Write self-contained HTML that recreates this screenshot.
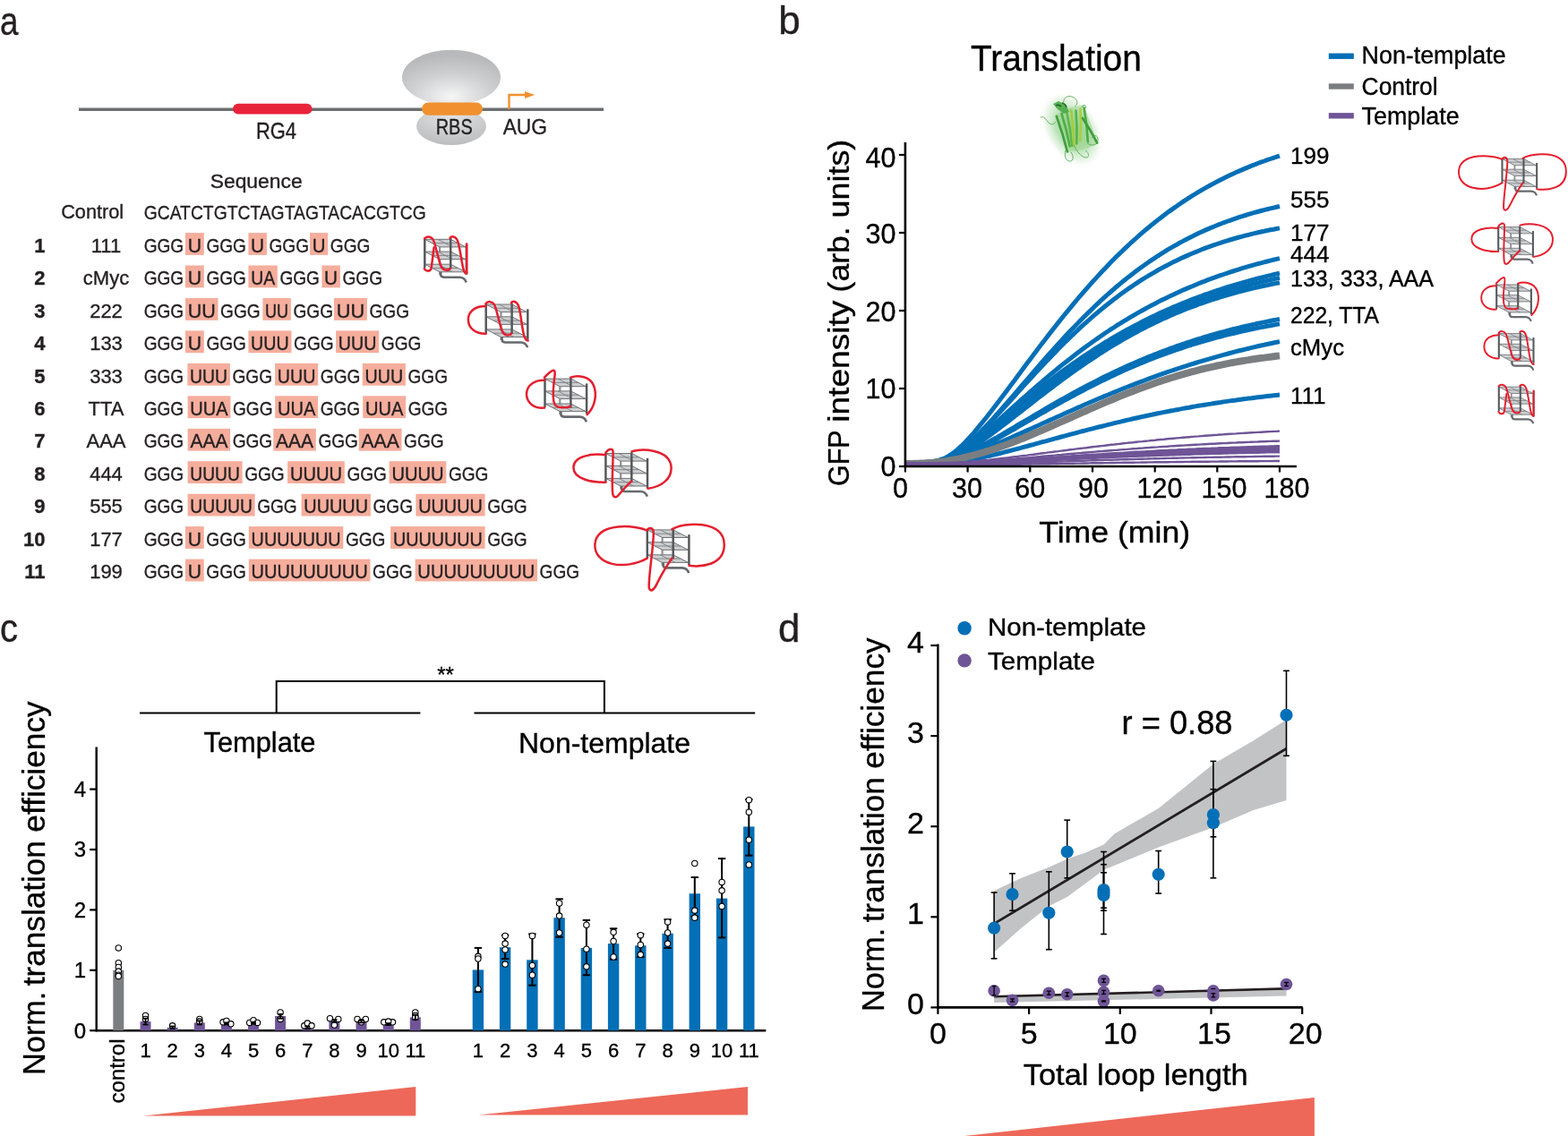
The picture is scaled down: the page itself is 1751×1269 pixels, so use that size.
<!DOCTYPE html><html><head><meta charset="utf-8"><style>html,body{margin:0;padding:0;background:#fff;}svg{display:block;}</style></head><body><svg width="1751" height="1269" viewBox="0 0 1751 1269" font-family='"Liberation Sans", sans-serif' fill="#231f20"><defs>
<radialGradient id="ribo" cx="0.5" cy="0.85" r="0.75"><stop offset="0" stop-color="#f6f6f6"/><stop offset="0.55" stop-color="#cfd0d2"/><stop offset="1" stop-color="#b8b9bb"/></radialGradient>
<radialGradient id="ribo2" cx="0.5" cy="0.2" r="0.8"><stop offset="0" stop-color="#e2e3e4"/><stop offset="1" stop-color="#bcbdbf"/></radialGradient>
<radialGradient id="glow" cx="0.5" cy="0.5" r="0.5"><stop offset="0" stop-color="#6cc06a" stop-opacity="0.9"/><stop offset="0.55" stop-color="#8fd08a" stop-opacity="0.55"/><stop offset="0.8" stop-color="#c4e6c0" stop-opacity="0.35"/><stop offset="1" stop-color="#ffffff" stop-opacity="0"/></radialGradient>
<g id="cube"><path d="M16.8,8.9 V40.2" stroke="#8e9093" stroke-width="2.2" fill="none"/><polygon points="0,0.3 28.9,0.3 45.7,8.9 16.8,8.9" fill="#cdcfd1" stroke="#6f7275" stroke-width="1.0"/><line x1="8.40" y1="4.60" x2="37.30" y2="4.60" stroke="#7d8083" stroke-width="0.9"/><line x1="14.45" y1="0.3" x2="31.25" y2="8.9" stroke="#7d8083" stroke-width="0.9"/><polygon points="0,14.1 28.9,14.1 45.7,22.7 16.8,22.7" fill="#cdcfd1" stroke="#6f7275" stroke-width="1.0"/><line x1="8.40" y1="18.40" x2="37.30" y2="18.40" stroke="#7d8083" stroke-width="0.9"/><line x1="14.45" y1="14.1" x2="31.25" y2="22.7" stroke="#7d8083" stroke-width="0.9"/><polygon points="0,28.2 28.9,28.2 45.7,36.8 16.8,36.8" fill="#cdcfd1" stroke="#6f7275" stroke-width="1.0"/><line x1="8.40" y1="32.50" x2="37.30" y2="32.50" stroke="#7d8083" stroke-width="0.9"/><line x1="14.45" y1="28.2" x2="31.25" y2="36.8" stroke="#7d8083" stroke-width="0.9"/><line x1="0" y1="-0.3" x2="0" y2="32.3" stroke="#55585b" stroke-width="2.5"/><line x1="28.9" y1="-1" x2="28.9" y2="32.8" stroke="#55585b" stroke-width="2.5"/><line x1="46.6" y1="5.6" x2="46.6" y2="39.5" stroke="#55585b" stroke-width="2.5"/><path d="M17.9,36.8 V40.2 Q18.2,42.8 22,42.8 L39,42.8 Q44.5,43 46.4,48.5" fill="none" stroke="#666a6d" stroke-width="2.6"/></g>
</defs>
<text x="0.0" y="38.6" font-size="44" textLength="20.5" lengthAdjust="spacingAndGlyphs" stroke="#231f20" stroke-width="0.35">a</text>
<line x1="88.0" y1="122.3" x2="674.0" y2="122.3" stroke="#6d6f71" stroke-width="3.6"/>
<rect x="260" y="115.8" width="88.6" height="11.8" rx="5.9" fill="#e8243a"/>
<text x="308.5" y="155.3" font-size="25" text-anchor="middle" textLength="45.0" lengthAdjust="spacingAndGlyphs" stroke="#231f20" stroke-width="0.35">RG4</text>
<ellipse cx="504" cy="141" rx="39" ry="21" fill="url(#ribo2)"/>
<ellipse cx="504" cy="86.5" rx="55" ry="30.8" fill="url(#ribo)"/>
<rect x="471" y="114.6" width="68" height="14.2" rx="7" fill="#f1902f"/>
<path d="M568.5,122 V106 H588" fill="none" stroke="#f1902f" stroke-width="2.4"/>
<polygon points="586,102 597,106 586,110" fill="#f1902f"/>
<text x="507.2" y="149.7" font-size="24" text-anchor="middle" textLength="41.0" lengthAdjust="spacingAndGlyphs" stroke="#231f20" stroke-width="0.35">RBS</text>
<text x="586.4" y="149.7" font-size="24" text-anchor="middle" textLength="49.5" lengthAdjust="spacingAndGlyphs" stroke="#231f20" stroke-width="0.35">AUG</text>
<text x="286.2" y="209.7" font-size="22" text-anchor="middle" textLength="103.0" lengthAdjust="spacingAndGlyphs" stroke="#231f20" stroke-width="0.35">Sequence</text>
<text x="103.2" y="243.9" font-size="22" text-anchor="middle" textLength="70.0" lengthAdjust="spacingAndGlyphs" stroke="#231f20" stroke-width="0.35">Control</text>
<text x="160.7" y="245.3" font-size="22" textLength="315.0" lengthAdjust="spacingAndGlyphs" stroke="#231f20" stroke-width="0.35">GCATCTGTCTAGTAGTACACGTCG</text>
<text x="50.5" y="281.7" font-size="22" text-anchor="end" font-weight="bold" stroke="#231f20" stroke-width="0.35">1</text>
<text x="118.5" y="281.7" font-size="22" text-anchor="middle" stroke="#231f20" stroke-width="0.35">111</text>
<rect x="207.0" y="260.1" width="20.8" height="24.8" fill="#f5ad9c"/>
<rect x="277.4" y="260.1" width="20.5" height="24.8" fill="#f5ad9c"/>
<rect x="346.0" y="260.1" width="20.2" height="24.8" fill="#f5ad9c"/>
<text x="160.7" y="281.7" font-size="22" textLength="44.5" lengthAdjust="spacingAndGlyphs" stroke="#231f20" stroke-width="0.35">GGG</text>
<text x="230.4" y="281.7" font-size="22" textLength="44.5" lengthAdjust="spacingAndGlyphs" stroke="#231f20" stroke-width="0.35">GGG</text>
<text x="300.5" y="281.7" font-size="22" textLength="44.5" lengthAdjust="spacingAndGlyphs" stroke="#231f20" stroke-width="0.35">GGG</text>
<text x="368.8" y="281.7" font-size="22" textLength="44.5" lengthAdjust="spacingAndGlyphs" stroke="#231f20" stroke-width="0.35">GGG</text>
<text x="217.4" y="281.7" font-size="22" text-anchor="middle" textLength="15.3" lengthAdjust="spacingAndGlyphs" stroke="#231f20" stroke-width="0.35">U</text>
<text x="287.6" y="281.7" font-size="22" text-anchor="middle" textLength="15.0" lengthAdjust="spacingAndGlyphs" stroke="#231f20" stroke-width="0.35">U</text>
<text x="356.1" y="281.7" font-size="22" text-anchor="middle" textLength="14.7" lengthAdjust="spacingAndGlyphs" stroke="#231f20" stroke-width="0.35">U</text>
<text x="50.5" y="318.1" font-size="22" text-anchor="end" font-weight="bold" stroke="#231f20" stroke-width="0.35">2</text>
<text x="118.5" y="318.1" font-size="22" text-anchor="middle" stroke="#231f20" stroke-width="0.35">cMyc</text>
<rect x="207.0" y="296.5" width="20.8" height="24.8" fill="#f5ad9c"/>
<rect x="277.4" y="296.5" width="32.4" height="24.8" fill="#f5ad9c"/>
<rect x="359.4" y="296.5" width="20.5" height="24.8" fill="#f5ad9c"/>
<text x="160.7" y="318.1" font-size="22" textLength="44.5" lengthAdjust="spacingAndGlyphs" stroke="#231f20" stroke-width="0.35">GGG</text>
<text x="230.4" y="318.1" font-size="22" textLength="44.5" lengthAdjust="spacingAndGlyphs" stroke="#231f20" stroke-width="0.35">GGG</text>
<text x="312.4" y="318.1" font-size="22" textLength="44.5" lengthAdjust="spacingAndGlyphs" stroke="#231f20" stroke-width="0.35">GGG</text>
<text x="382.5" y="318.1" font-size="22" textLength="44.5" lengthAdjust="spacingAndGlyphs" stroke="#231f20" stroke-width="0.35">GGG</text>
<text x="217.4" y="318.1" font-size="22" text-anchor="middle" textLength="15.3" lengthAdjust="spacingAndGlyphs" stroke="#231f20" stroke-width="0.35">U</text>
<text x="293.6" y="318.1" font-size="22" text-anchor="middle" textLength="26.9" lengthAdjust="spacingAndGlyphs" stroke="#231f20" stroke-width="0.35">UA</text>
<text x="369.6" y="318.1" font-size="22" text-anchor="middle" textLength="15.0" lengthAdjust="spacingAndGlyphs" stroke="#231f20" stroke-width="0.35">U</text>
<text x="50.5" y="354.6" font-size="22" text-anchor="end" font-weight="bold" stroke="#231f20" stroke-width="0.35">3</text>
<text x="118.5" y="354.6" font-size="22" text-anchor="middle" stroke="#231f20" stroke-width="0.35">222</text>
<rect x="207.0" y="333.0" width="36.5" height="24.8" fill="#f5ad9c"/>
<rect x="293.4" y="333.0" width="31.5" height="24.8" fill="#f5ad9c"/>
<rect x="373.0" y="333.0" width="36.9" height="24.8" fill="#f5ad9c"/>
<text x="160.7" y="354.6" font-size="22" textLength="44.5" lengthAdjust="spacingAndGlyphs" stroke="#231f20" stroke-width="0.35">GGG</text>
<text x="246.1" y="354.6" font-size="22" textLength="44.5" lengthAdjust="spacingAndGlyphs" stroke="#231f20" stroke-width="0.35">GGG</text>
<text x="327.5" y="354.6" font-size="22" textLength="44.5" lengthAdjust="spacingAndGlyphs" stroke="#231f20" stroke-width="0.35">GGG</text>
<text x="412.5" y="354.6" font-size="22" textLength="44.5" lengthAdjust="spacingAndGlyphs" stroke="#231f20" stroke-width="0.35">GGG</text>
<text x="225.2" y="354.6" font-size="22" text-anchor="middle" textLength="31.0" lengthAdjust="spacingAndGlyphs" stroke="#231f20" stroke-width="0.35">UU</text>
<text x="309.1" y="354.6" font-size="22" text-anchor="middle" textLength="26.0" lengthAdjust="spacingAndGlyphs" stroke="#231f20" stroke-width="0.35">UU</text>
<text x="391.4" y="354.6" font-size="22" text-anchor="middle" textLength="31.4" lengthAdjust="spacingAndGlyphs" stroke="#231f20" stroke-width="0.35">UU</text>
<text x="50.5" y="391.1" font-size="22" text-anchor="end" font-weight="bold" stroke="#231f20" stroke-width="0.35">4</text>
<text x="118.5" y="391.1" font-size="22" text-anchor="middle" stroke="#231f20" stroke-width="0.35">133</text>
<rect x="207.0" y="369.4" width="20.8" height="24.8" fill="#f5ad9c"/>
<rect x="277.4" y="369.4" width="48.1" height="24.8" fill="#f5ad9c"/>
<rect x="375.1" y="369.4" width="48.1" height="24.8" fill="#f5ad9c"/>
<text x="160.7" y="391.1" font-size="22" textLength="44.5" lengthAdjust="spacingAndGlyphs" stroke="#231f20" stroke-width="0.35">GGG</text>
<text x="230.4" y="391.1" font-size="22" textLength="44.5" lengthAdjust="spacingAndGlyphs" stroke="#231f20" stroke-width="0.35">GGG</text>
<text x="328.1" y="391.1" font-size="22" textLength="44.5" lengthAdjust="spacingAndGlyphs" stroke="#231f20" stroke-width="0.35">GGG</text>
<text x="425.8" y="391.1" font-size="22" textLength="44.5" lengthAdjust="spacingAndGlyphs" stroke="#231f20" stroke-width="0.35">GGG</text>
<text x="217.4" y="391.1" font-size="22" text-anchor="middle" textLength="15.3" lengthAdjust="spacingAndGlyphs" stroke="#231f20" stroke-width="0.35">U</text>
<text x="301.4" y="391.1" font-size="22" text-anchor="middle" textLength="42.6" lengthAdjust="spacingAndGlyphs" stroke="#231f20" stroke-width="0.35">UUU</text>
<text x="399.1" y="391.1" font-size="22" text-anchor="middle" textLength="42.6" lengthAdjust="spacingAndGlyphs" stroke="#231f20" stroke-width="0.35">UUU</text>
<text x="50.5" y="427.5" font-size="22" text-anchor="end" font-weight="bold" stroke="#231f20" stroke-width="0.35">5</text>
<text x="118.5" y="427.5" font-size="22" text-anchor="middle" stroke="#231f20" stroke-width="0.35">333</text>
<rect x="209.4" y="405.9" width="47.5" height="24.8" fill="#f5ad9c"/>
<rect x="307.1" y="405.9" width="48.1" height="24.8" fill="#f5ad9c"/>
<rect x="404.8" y="405.9" width="48.1" height="24.8" fill="#f5ad9c"/>
<text x="160.7" y="427.5" font-size="22" textLength="44.5" lengthAdjust="spacingAndGlyphs" stroke="#231f20" stroke-width="0.35">GGG</text>
<text x="259.5" y="427.5" font-size="22" textLength="44.5" lengthAdjust="spacingAndGlyphs" stroke="#231f20" stroke-width="0.35">GGG</text>
<text x="357.8" y="427.5" font-size="22" textLength="44.5" lengthAdjust="spacingAndGlyphs" stroke="#231f20" stroke-width="0.35">GGG</text>
<text x="455.5" y="427.5" font-size="22" textLength="44.5" lengthAdjust="spacingAndGlyphs" stroke="#231f20" stroke-width="0.35">GGG</text>
<text x="233.1" y="427.5" font-size="22" text-anchor="middle" textLength="42.0" lengthAdjust="spacingAndGlyphs" stroke="#231f20" stroke-width="0.35">UUU</text>
<text x="331.1" y="427.5" font-size="22" text-anchor="middle" textLength="42.6" lengthAdjust="spacingAndGlyphs" stroke="#231f20" stroke-width="0.35">UUU</text>
<text x="428.9" y="427.5" font-size="22" text-anchor="middle" textLength="42.6" lengthAdjust="spacingAndGlyphs" stroke="#231f20" stroke-width="0.35">UUU</text>
<text x="50.5" y="463.9" font-size="22" text-anchor="end" font-weight="bold" stroke="#231f20" stroke-width="0.35">6</text>
<text x="118.5" y="463.9" font-size="22" text-anchor="middle" stroke="#231f20" stroke-width="0.35">TTA</text>
<rect x="209.6" y="442.3" width="47.8" height="24.8" fill="#f5ad9c"/>
<rect x="307.2" y="442.3" width="47.9" height="24.8" fill="#f5ad9c"/>
<rect x="405.2" y="442.3" width="47.9" height="24.8" fill="#f5ad9c"/>
<text x="160.7" y="463.9" font-size="22" textLength="44.5" lengthAdjust="spacingAndGlyphs" stroke="#231f20" stroke-width="0.35">GGG</text>
<text x="260.0" y="463.9" font-size="22" textLength="44.5" lengthAdjust="spacingAndGlyphs" stroke="#231f20" stroke-width="0.35">GGG</text>
<text x="357.7" y="463.9" font-size="22" textLength="44.5" lengthAdjust="spacingAndGlyphs" stroke="#231f20" stroke-width="0.35">GGG</text>
<text x="455.7" y="463.9" font-size="22" textLength="44.5" lengthAdjust="spacingAndGlyphs" stroke="#231f20" stroke-width="0.35">GGG</text>
<text x="233.5" y="463.9" font-size="22" text-anchor="middle" textLength="42.3" lengthAdjust="spacingAndGlyphs" stroke="#231f20" stroke-width="0.35">UUA</text>
<text x="331.1" y="463.9" font-size="22" text-anchor="middle" textLength="42.4" lengthAdjust="spacingAndGlyphs" stroke="#231f20" stroke-width="0.35">UUA</text>
<text x="429.1" y="463.9" font-size="22" text-anchor="middle" textLength="42.4" lengthAdjust="spacingAndGlyphs" stroke="#231f20" stroke-width="0.35">UUA</text>
<text x="50.5" y="500.4" font-size="22" text-anchor="end" font-weight="bold" stroke="#231f20" stroke-width="0.35">7</text>
<text x="118.5" y="500.4" font-size="22" text-anchor="middle" stroke="#231f20" stroke-width="0.35">AAA</text>
<rect x="209.6" y="478.8" width="47.5" height="24.8" fill="#f5ad9c"/>
<rect x="305.3" y="478.8" width="47.5" height="24.8" fill="#f5ad9c"/>
<rect x="400.7" y="478.8" width="47.8" height="24.8" fill="#f5ad9c"/>
<text x="160.7" y="500.4" font-size="22" textLength="44.5" lengthAdjust="spacingAndGlyphs" stroke="#231f20" stroke-width="0.35">GGG</text>
<text x="259.7" y="500.4" font-size="22" textLength="44.5" lengthAdjust="spacingAndGlyphs" stroke="#231f20" stroke-width="0.35">GGG</text>
<text x="355.4" y="500.4" font-size="22" textLength="44.5" lengthAdjust="spacingAndGlyphs" stroke="#231f20" stroke-width="0.35">GGG</text>
<text x="451.1" y="500.4" font-size="22" textLength="44.5" lengthAdjust="spacingAndGlyphs" stroke="#231f20" stroke-width="0.35">GGG</text>
<text x="233.4" y="500.4" font-size="22" text-anchor="middle" textLength="42.0" lengthAdjust="spacingAndGlyphs" stroke="#231f20" stroke-width="0.35">AAA</text>
<text x="329.1" y="500.4" font-size="22" text-anchor="middle" textLength="42.0" lengthAdjust="spacingAndGlyphs" stroke="#231f20" stroke-width="0.35">AAA</text>
<text x="424.6" y="500.4" font-size="22" text-anchor="middle" textLength="42.3" lengthAdjust="spacingAndGlyphs" stroke="#231f20" stroke-width="0.35">AAA</text>
<text x="50.5" y="536.9" font-size="22" text-anchor="end" font-weight="bold" stroke="#231f20" stroke-width="0.35">8</text>
<text x="118.5" y="536.9" font-size="22" text-anchor="middle" stroke="#231f20" stroke-width="0.35">444</text>
<rect x="209.6" y="515.2" width="61.0" height="24.8" fill="#f5ad9c"/>
<rect x="321.1" y="515.2" width="63.7" height="24.8" fill="#f5ad9c"/>
<rect x="434.6" y="515.2" width="63.7" height="24.8" fill="#f5ad9c"/>
<text x="160.7" y="536.9" font-size="22" textLength="44.5" lengthAdjust="spacingAndGlyphs" stroke="#231f20" stroke-width="0.35">GGG</text>
<text x="273.2" y="536.9" font-size="22" textLength="44.5" lengthAdjust="spacingAndGlyphs" stroke="#231f20" stroke-width="0.35">GGG</text>
<text x="387.4" y="536.9" font-size="22" textLength="44.5" lengthAdjust="spacingAndGlyphs" stroke="#231f20" stroke-width="0.35">GGG</text>
<text x="500.9" y="536.9" font-size="22" textLength="44.5" lengthAdjust="spacingAndGlyphs" stroke="#231f20" stroke-width="0.35">GGG</text>
<text x="240.1" y="536.9" font-size="22" text-anchor="middle" textLength="55.5" lengthAdjust="spacingAndGlyphs" stroke="#231f20" stroke-width="0.35">UUUU</text>
<text x="353.0" y="536.9" font-size="22" text-anchor="middle" textLength="58.2" lengthAdjust="spacingAndGlyphs" stroke="#231f20" stroke-width="0.35">UUUU</text>
<text x="466.5" y="536.9" font-size="22" text-anchor="middle" textLength="58.2" lengthAdjust="spacingAndGlyphs" stroke="#231f20" stroke-width="0.35">UUUU</text>
<text x="50.5" y="573.3" font-size="22" text-anchor="end" font-weight="bold" stroke="#231f20" stroke-width="0.35">9</text>
<text x="118.5" y="573.3" font-size="22" text-anchor="middle" stroke="#231f20" stroke-width="0.35">555</text>
<rect x="209.6" y="551.7" width="75.0" height="24.8" fill="#f5ad9c"/>
<rect x="336.6" y="551.7" width="77.3" height="24.8" fill="#f5ad9c"/>
<rect x="464.4" y="551.7" width="77.2" height="24.8" fill="#f5ad9c"/>
<text x="160.7" y="573.3" font-size="22" textLength="44.5" lengthAdjust="spacingAndGlyphs" stroke="#231f20" stroke-width="0.35">GGG</text>
<text x="287.2" y="573.3" font-size="22" textLength="44.5" lengthAdjust="spacingAndGlyphs" stroke="#231f20" stroke-width="0.35">GGG</text>
<text x="416.5" y="573.3" font-size="22" textLength="44.5" lengthAdjust="spacingAndGlyphs" stroke="#231f20" stroke-width="0.35">GGG</text>
<text x="544.2" y="573.3" font-size="22" textLength="44.5" lengthAdjust="spacingAndGlyphs" stroke="#231f20" stroke-width="0.35">GGG</text>
<text x="247.1" y="573.3" font-size="22" text-anchor="middle" textLength="69.5" lengthAdjust="spacingAndGlyphs" stroke="#231f20" stroke-width="0.35">UUUUU</text>
<text x="375.2" y="573.3" font-size="22" text-anchor="middle" textLength="71.8" lengthAdjust="spacingAndGlyphs" stroke="#231f20" stroke-width="0.35">UUUUU</text>
<text x="503.0" y="573.3" font-size="22" text-anchor="middle" textLength="71.7" lengthAdjust="spacingAndGlyphs" stroke="#231f20" stroke-width="0.35">UUUUU</text>
<text x="50.5" y="609.8" font-size="22" text-anchor="end" font-weight="bold" stroke="#231f20" stroke-width="0.35">10</text>
<text x="118.5" y="609.8" font-size="22" text-anchor="middle" stroke="#231f20" stroke-width="0.35">177</text>
<rect x="207.0" y="588.1" width="20.7" height="24.8" fill="#f5ad9c"/>
<rect x="277.8" y="588.1" width="105.5" height="24.8" fill="#f5ad9c"/>
<rect x="436.1" y="588.1" width="105.5" height="24.8" fill="#f5ad9c"/>
<text x="160.7" y="609.8" font-size="22" textLength="44.5" lengthAdjust="spacingAndGlyphs" stroke="#231f20" stroke-width="0.35">GGG</text>
<text x="230.3" y="609.8" font-size="22" textLength="44.5" lengthAdjust="spacingAndGlyphs" stroke="#231f20" stroke-width="0.35">GGG</text>
<text x="385.9" y="609.8" font-size="22" textLength="44.5" lengthAdjust="spacingAndGlyphs" stroke="#231f20" stroke-width="0.35">GGG</text>
<text x="544.2" y="609.8" font-size="22" textLength="44.5" lengthAdjust="spacingAndGlyphs" stroke="#231f20" stroke-width="0.35">GGG</text>
<text x="217.3" y="609.8" font-size="22" text-anchor="middle" textLength="15.2" lengthAdjust="spacingAndGlyphs" stroke="#231f20" stroke-width="0.35">U</text>
<text x="330.6" y="609.8" font-size="22" text-anchor="middle" textLength="100.0" lengthAdjust="spacingAndGlyphs" stroke="#231f20" stroke-width="0.35">UUUUUUU</text>
<text x="488.9" y="609.8" font-size="22" text-anchor="middle" textLength="100.0" lengthAdjust="spacingAndGlyphs" stroke="#231f20" stroke-width="0.35">UUUUUUU</text>
<text x="50.5" y="646.2" font-size="22" text-anchor="end" font-weight="bold" stroke="#231f20" stroke-width="0.35">11</text>
<text x="118.5" y="646.2" font-size="22" text-anchor="middle" stroke="#231f20" stroke-width="0.35">199</text>
<rect x="207.0" y="624.6" width="20.7" height="24.8" fill="#f5ad9c"/>
<rect x="277.8" y="624.6" width="135.7" height="24.8" fill="#f5ad9c"/>
<rect x="463.6" y="624.6" width="136.4" height="24.8" fill="#f5ad9c"/>
<text x="160.7" y="646.2" font-size="22" textLength="44.5" lengthAdjust="spacingAndGlyphs" stroke="#231f20" stroke-width="0.35">GGG</text>
<text x="230.3" y="646.2" font-size="22" textLength="44.5" lengthAdjust="spacingAndGlyphs" stroke="#231f20" stroke-width="0.35">GGG</text>
<text x="416.1" y="646.2" font-size="22" textLength="44.5" lengthAdjust="spacingAndGlyphs" stroke="#231f20" stroke-width="0.35">GGG</text>
<text x="602.6" y="646.2" font-size="22" textLength="44.5" lengthAdjust="spacingAndGlyphs" stroke="#231f20" stroke-width="0.35">GGG</text>
<text x="217.3" y="646.2" font-size="22" text-anchor="middle" textLength="15.2" lengthAdjust="spacingAndGlyphs" stroke="#231f20" stroke-width="0.35">U</text>
<text x="345.6" y="646.2" font-size="22" text-anchor="middle" textLength="130.2" lengthAdjust="spacingAndGlyphs" stroke="#231f20" stroke-width="0.35">UUUUUUUUU</text>
<text x="531.8" y="646.2" font-size="22" text-anchor="middle" textLength="130.9" lengthAdjust="spacingAndGlyphs" stroke="#231f20" stroke-width="0.35">UUUUUUUUU</text>
<g transform="translate(474.3,267.0) scale(1.0,1.0)">
<use href="#cube"/>
<path d="M-0.5,33 C1.5,36.5 6,36.5 7.3,33 L10.3,9.5" fill="none" stroke="#e41f2e" stroke-width="2.5" stroke-linecap="round" stroke-linejoin="round"/>
<path d="M-0.3,-0.5 C2,-3.5 7,-3.5 9.5,1 C12,6 15,22 18,30 C20,35 26,36.5 28.6,32.7" fill="none" stroke="#e41f2e" stroke-width="2.5" stroke-linecap="round" stroke-linejoin="round"/>
<path d="M28.2,-1 C30,-3.5 34,-3.5 36.5,1.5 C39,7 41,25 43,33 C44,37.5 46,39 46.9,38.5 L46.9,5.5" fill="none" stroke="#e41f2e" stroke-width="2.5" stroke-linecap="round" stroke-linejoin="round"/>
</g>
<g transform="translate(542.7,339.7) scale(1.0,1.0)">
<use href="#cube"/>
<path d="M0,2.3 C-9,2 -19.5,6 -19.8,17 C-20,28 -10,33.5 0,33" fill="none" stroke="#e41f2e" stroke-width="2.5" stroke-linecap="round" stroke-linejoin="round"/>
<path d="M-0.3,-0.5 C2,-3.5 7,-3.5 9.5,1 C12,6 15,22 18,30 C20,35 26,36.5 28.6,32.7" fill="none" stroke="#e41f2e" stroke-width="2.5" stroke-linecap="round" stroke-linejoin="round"/>
<path d="M28.2,-1.5 C30,-4 34,-3.5 36.4,2 C38.5,8 40,25 42,33 C43,38 45,40.7 47,40.7" fill="none" stroke="#e41f2e" stroke-width="2.5" stroke-linecap="round" stroke-linejoin="round"/>
</g>
<g transform="translate(608.5,422.8) scale(1.0,1.0)">
<use href="#cube"/>
<path d="M0,2 C-11,1.5 -20.5,7 -20.5,17.5 C-20.5,27 -12,34 -0.5,32.8" fill="none" stroke="#e41f2e" stroke-width="2.5" stroke-linecap="round" stroke-linejoin="round"/>
<path d="M-0.6,-1.2 C3,-5 8,-10 10.3,-9 C12,-8 11,-3 10,5 C9,14 9,25 11,29 C13,33 24,33.5 28.3,31" fill="none" stroke="#e41f2e" stroke-width="2.5" stroke-linecap="round" stroke-linejoin="round"/>
<path d="M28.7,-1.1 C36,-4 50,-3 54.5,8 C58.5,18 56,32 47.1,40.3" fill="none" stroke="#e41f2e" stroke-width="2.5" stroke-linecap="round" stroke-linejoin="round"/>
</g>
<g transform="translate(676.4,506.2) scale(1.0,1.0)">
<use href="#cube"/>
<path d="M0,2 C-15,0 -36,3 -36,16 C-36,29 -15,33 0,32.5" fill="none" stroke="#e41f2e" stroke-width="2.5" stroke-linecap="round" stroke-linejoin="round"/>
<path d="M0,-0.5 C2,-4 7,-6 8,-3 C9,5 6,35 8,46 C9,50 12,50 15,46 C20,40 25,35 28.6,31.5" fill="none" stroke="#e41f2e" stroke-width="2.5" stroke-linecap="round" stroke-linejoin="round"/>
<path d="M29.2,-2 C40,-5 70,-5 73,14 C75,30 60,38 47.1,39.5" fill="none" stroke="#e41f2e" stroke-width="2.5" stroke-linecap="round" stroke-linejoin="round"/>
</g>
<g transform="translate(722.8,591.6) scale(1.0,1.0)">
<use href="#cube"/>
<path d="M0,1 C-12,-5 -56,-9 -58.4,16 C-60,40 -25,46 0,32" fill="none" stroke="#e41f2e" stroke-width="2.5" stroke-linecap="round" stroke-linejoin="round"/>
<path d="M0,0 C3,-3 7,-2 7,4 C7,20 1,55 2,65 C3,70 7,68 10,62 C15,52 22,40 27.7,32" fill="none" stroke="#e41f2e" stroke-width="2.5" stroke-linecap="round" stroke-linejoin="round"/>
<path d="M27.7,-0.5 C40,-8 86,-12 86,17 C86,40 60,42 46.7,40.2" fill="none" stroke="#e41f2e" stroke-width="2.5" stroke-linecap="round" stroke-linejoin="round"/>
</g>
<text x="869.2" y="38.2" font-size="44" stroke="#231f20" stroke-width="0.35">b</text>
<text x="1179.4" y="78.7" font-size="40" text-anchor="middle" textLength="191.0" lengthAdjust="spacingAndGlyphs" fill="#000" stroke="#000" stroke-width="0.35">Translation</text>
<line x1="1483.8" y1="62.7" x2="1511.8" y2="62.7" stroke="#036fb6" stroke-width="6.4"/>
<line x1="1483.8" y1="96.5" x2="1511.8" y2="96.5" stroke="#7a7e80" stroke-width="6.4"/>
<line x1="1483.8" y1="129.3" x2="1511.8" y2="129.3" stroke="#6f5597" stroke-width="6.4"/>
<text x="1520.6" y="71.3" font-size="27" textLength="161.0" lengthAdjust="spacingAndGlyphs" fill="#000" stroke="#000" stroke-width="0.35">Non-template</text>
<text x="1520.6" y="105.7" font-size="27" textLength="85.0" lengthAdjust="spacingAndGlyphs" fill="#000" stroke="#000" stroke-width="0.35">Control</text>
<text x="1520.6" y="139.2" font-size="27" textLength="109.0" lengthAdjust="spacingAndGlyphs" fill="#000" stroke="#000" stroke-width="0.35">Template</text>
<ellipse cx="0" cy="0" rx="31" ry="47" transform="translate(1197,145) rotate(-32)" fill="url(#glow)"/>
<polygon points="1180,128 1192,121 1210,117 1226,160 1214,166 1193,170" fill="#9ad48b" opacity="0.55"/>
<path d="M1179.8,129.8 Q1187.0,149.7 1191.9,169.5" stroke="#3f9f3d" stroke-width="2.6" fill="none" stroke-linecap="round"/>
<path d="M1185.5,127 Q1191.3,145.2 1194.7,163.5" stroke="#4fae47" stroke-width="2.6" fill="none" stroke-linecap="round"/>
<path d="M1191.2,125 Q1195.4,144.0 1197.2,163" stroke="#5db84a" stroke-width="2.6" fill="none" stroke-linecap="round"/>
<path d="M1196.2,123.4 Q1199.0,142.9 1199.3,162.5" stroke="#a3cc3f" stroke-width="2.6" fill="none" stroke-linecap="round"/>
<path d="M1201.5,123.5 Q1203.1,142.0 1202.3,160.5" stroke="#55b24a" stroke-width="2.6" fill="none" stroke-linecap="round"/>
<path d="M1206.5,121.5 Q1207.5,139.5 1206.2,157.5" stroke="#a9cf41" stroke-width="2.6" fill="none" stroke-linecap="round"/>
<path d="M1210.6,120.5 Q1213.9,139.3 1214.8,158.2" stroke="#4aab46" stroke-width="2.6" fill="none" stroke-linecap="round"/>
<path d="M1208.9,131.9 Q1218.3,145.8 1225.2,159.6" stroke="#3c9b3c" stroke-width="2.6" fill="none" stroke-linecap="round"/>
<path d="M1176,116 l6,-3 l8,4 l4,8 l-6,2 l-7,-5 z" fill="#4aa846" opacity="0.9"/>
<path d="M1179,118 q3,-2 6,1 M1186,115 q4,1 5,5" stroke="#1f5e22" stroke-width="1.4" fill="none"/>
<path d="M1188,117 C1186,110 1192,106 1197,108 C1203,110 1205,116 1200,119 M1162,131 C1166,129 1168,134 1171,137 C1174,140 1177,139 1179,136 M1190,168 C1188,176 1191,180 1195,180 C1199,180 1199,174 1196,170 M1199,162 C1203,170 1208,176 1213,176 C1217,176 1216,170 1212,168 M1214,160 C1220,164 1226,162 1226,156 C1226,150 1221,151 1219,154 M1208,120 C1210,116 1214,117 1212,121" stroke="#43a440" stroke-width="0.8" fill="none"/>
<path d="M1010.9,516.6 L1014.4,516.6 L1017.9,516.6 L1021.4,516.6 L1024.8,516.5 L1028.3,516.5 L1031.8,516.4 L1035.3,516.2 L1038.8,515.9 L1042.3,515.5 L1045.7,514.8 L1049.2,513.9 L1052.7,512.7 L1056.2,511.2 L1059.7,509.2 L1063.2,506.9 L1066.7,504.3 L1070.1,501.4 L1073.6,498.2 L1077.1,494.7 L1080.6,491.1 L1084.1,487.2 L1087.6,483.3 L1091.0,479.2 L1094.5,474.9 L1098.0,470.6 L1101.5,466.3 L1105.0,461.8 L1108.5,457.3 L1112.0,452.8 L1115.4,448.2 L1118.9,443.6 L1122.4,438.9 L1125.9,434.2 L1129.4,429.5 L1132.9,424.9 L1136.3,420.2 L1139.8,415.5 L1143.3,410.8 L1146.8,406.1 L1150.3,401.4 L1153.8,396.8 L1157.2,392.2 L1160.7,387.6 L1164.2,383.0 L1167.7,378.4 L1171.2,373.9 L1174.7,369.4 L1178.2,365.0 L1181.6,360.6 L1185.1,356.2 L1188.6,351.8 L1192.1,347.6 L1195.6,343.3 L1199.1,339.1 L1202.5,335.0 L1206.0,330.9 L1209.5,326.8 L1213.0,322.8 L1216.5,318.8 L1220.0,314.9 L1223.5,311.1 L1226.9,307.3 L1230.4,303.5 L1233.9,299.9 L1237.4,296.2 L1240.9,292.6 L1244.4,289.1 L1247.8,285.6 L1251.3,282.2 L1254.8,278.9 L1258.3,275.6 L1261.8,272.3 L1265.3,269.1 L1268.8,266.0 L1272.2,262.9 L1275.7,259.9 L1279.2,256.9 L1282.7,254.0 L1286.2,251.1 L1289.7,248.3 L1293.1,245.6 L1296.6,242.9 L1300.1,240.2 L1303.6,237.6 L1307.1,235.1 L1310.6,232.6 L1314.1,230.2 L1317.5,227.8 L1321.0,225.4 L1324.5,223.1 L1328.0,220.9 L1331.5,218.7 L1335.0,216.5 L1338.4,214.4 L1341.9,212.4 L1345.4,210.4 L1348.9,208.4 L1352.4,206.5 L1355.9,204.6 L1359.3,202.8 L1362.8,201.0 L1366.3,199.2 L1369.8,197.5 L1373.3,195.8 L1376.8,194.2 L1380.3,192.6 L1383.7,191.1 L1387.2,189.6 L1390.7,188.1 L1394.2,186.6 L1397.7,185.2 L1401.2,183.9 L1404.6,182.5 L1408.1,181.2 L1411.6,180.0 L1415.1,178.7 L1418.6,177.5 L1422.1,176.3 L1425.6,175.2 L1429.0,174.1" fill="none" stroke="#036fb6" stroke-width="5"/>
<path d="M1010.9,516.6 L1014.4,516.6 L1017.9,516.6 L1021.4,516.6 L1024.8,516.6 L1028.3,516.5 L1031.8,516.4 L1035.3,516.3 L1038.8,516.1 L1042.3,515.7 L1045.7,515.2 L1049.2,514.5 L1052.7,513.6 L1056.2,512.3 L1059.7,510.8 L1063.2,509.0 L1066.7,506.9 L1070.1,504.5 L1073.6,501.9 L1077.1,499.1 L1080.6,496.1 L1084.1,493.0 L1087.6,489.7 L1091.0,486.4 L1094.5,482.9 L1098.0,479.3 L1101.5,475.6 L1105.0,471.9 L1108.5,468.1 L1112.0,464.2 L1115.4,460.3 L1118.9,456.4 L1122.4,452.4 L1125.9,448.4 L1129.4,444.4 L1132.9,440.3 L1136.3,436.3 L1139.8,432.2 L1143.3,428.2 L1146.8,424.1 L1150.3,420.0 L1153.8,416.0 L1157.2,412.0 L1160.7,408.0 L1164.2,404.0 L1167.7,400.0 L1171.2,396.0 L1174.7,392.1 L1178.2,388.2 L1181.6,384.4 L1185.1,380.6 L1188.6,376.8 L1192.1,373.0 L1195.6,369.3 L1199.1,365.7 L1202.5,362.1 L1206.0,358.5 L1209.5,355.0 L1213.0,351.5 L1216.5,348.1 L1220.0,344.7 L1223.5,341.3 L1226.9,338.1 L1230.4,334.8 L1233.9,331.7 L1237.4,328.5 L1240.9,325.5 L1244.4,322.4 L1247.8,319.5 L1251.3,316.6 L1254.8,313.7 L1258.3,310.9 L1261.8,308.2 L1265.3,305.5 L1268.8,302.8 L1272.2,300.2 L1275.7,297.7 L1279.2,295.2 L1282.7,292.8 L1286.2,290.4 L1289.7,288.1 L1293.1,285.8 L1296.6,283.6 L1300.1,281.4 L1303.6,279.2 L1307.1,277.2 L1310.6,275.1 L1314.1,273.2 L1317.5,271.2 L1321.0,269.4 L1324.5,267.5 L1328.0,265.7 L1331.5,264.0 L1335.0,262.3 L1338.4,260.6 L1341.9,259.0 L1345.4,257.4 L1348.9,255.9 L1352.4,254.4 L1355.9,253.0 L1359.3,251.5 L1362.8,250.2 L1366.3,248.8 L1369.8,247.5 L1373.3,246.3 L1376.8,245.1 L1380.3,243.9 L1383.7,242.7 L1387.2,241.6 L1390.7,240.5 L1394.2,239.4 L1397.7,238.4 L1401.2,237.4 L1404.6,236.5 L1408.1,235.5 L1411.6,234.6 L1415.1,233.7 L1418.6,232.9 L1422.1,232.1 L1425.6,231.3 L1429.0,230.5" fill="none" stroke="#036fb6" stroke-width="5"/>
<path d="M1010.9,516.6 L1014.4,516.6 L1017.9,516.6 L1021.4,516.6 L1024.8,516.6 L1028.3,516.5 L1031.8,516.5 L1035.3,516.3 L1038.8,516.1 L1042.3,515.8 L1045.7,515.4 L1049.2,514.7 L1052.7,513.8 L1056.2,512.6 L1059.7,511.1 L1063.2,509.3 L1066.7,507.3 L1070.1,505.0 L1073.6,502.4 L1077.1,499.6 L1080.6,496.7 L1084.1,493.6 L1087.6,490.4 L1091.0,487.0 L1094.5,483.6 L1098.0,480.1 L1101.5,476.5 L1105.0,472.9 L1108.5,469.2 L1112.0,465.4 L1115.4,461.7 L1118.9,457.9 L1122.4,454.0 L1125.9,450.2 L1129.4,446.3 L1132.9,442.5 L1136.3,438.6 L1139.8,434.8 L1143.3,430.9 L1146.8,427.1 L1150.3,423.3 L1153.8,419.5 L1157.2,415.7 L1160.7,412.0 L1164.2,408.2 L1167.7,404.5 L1171.2,400.9 L1174.7,397.2 L1178.2,393.7 L1181.6,390.1 L1185.1,386.6 L1188.6,383.1 L1192.1,379.7 L1195.6,376.3 L1199.1,373.0 L1202.5,369.7 L1206.0,366.4 L1209.5,363.2 L1213.0,360.1 L1216.5,357.0 L1220.0,353.9 L1223.5,350.9 L1226.9,348.0 L1230.4,345.1 L1233.9,342.2 L1237.4,339.5 L1240.9,336.7 L1244.4,334.0 L1247.8,331.4 L1251.3,328.8 L1254.8,326.3 L1258.3,323.8 L1261.8,321.4 L1265.3,319.0 L1268.8,316.7 L1272.2,314.4 L1275.7,312.2 L1279.2,310.0 L1282.7,307.9 L1286.2,305.8 L1289.7,303.8 L1293.1,301.8 L1296.6,299.9 L1300.1,298.0 L1303.6,296.2 L1307.1,294.4 L1310.6,292.6 L1314.1,290.9 L1317.5,289.2 L1321.0,287.6 L1324.5,286.1 L1328.0,284.5 L1331.5,283.0 L1335.0,281.6 L1338.4,280.2 L1341.9,278.8 L1345.4,277.4 L1348.9,276.1 L1352.4,274.9 L1355.9,273.7 L1359.3,272.5 L1362.8,271.3 L1366.3,270.2 L1369.8,269.1 L1373.3,268.0 L1376.8,267.0 L1380.3,266.0 L1383.7,265.0 L1387.2,264.1 L1390.7,263.2 L1394.2,262.3 L1397.7,261.4 L1401.2,260.6 L1404.6,259.8 L1408.1,259.0 L1411.6,258.3 L1415.1,257.5 L1418.6,256.8 L1422.1,256.2 L1425.6,255.5 L1429.0,254.9" fill="none" stroke="#036fb6" stroke-width="5"/>
<path d="M1010.9,516.6 L1014.4,516.6 L1017.9,516.6 L1021.4,516.6 L1024.8,516.6 L1028.3,516.5 L1031.8,516.5 L1035.3,516.4 L1038.8,516.2 L1042.3,516.0 L1045.7,515.6 L1049.2,515.1 L1052.7,514.3 L1056.2,513.4 L1059.7,512.1 L1063.2,510.6 L1066.7,508.8 L1070.1,506.8 L1073.6,504.5 L1077.1,502.0 L1080.6,499.4 L1084.1,496.7 L1087.6,493.8 L1091.0,490.9 L1094.5,487.9 L1098.0,484.9 L1101.5,481.8 L1105.0,478.7 L1108.5,475.6 L1112.0,472.4 L1115.4,469.2 L1118.9,466.1 L1122.4,462.9 L1125.9,459.7 L1129.4,456.6 L1132.9,453.4 L1136.3,450.3 L1139.8,447.2 L1143.3,444.1 L1146.8,441.0 L1150.3,437.9 L1153.8,434.8 L1157.2,431.8 L1160.7,428.8 L1164.2,425.8 L1167.7,422.8 L1171.2,419.9 L1174.7,417.0 L1178.2,414.1 L1181.6,411.3 L1185.1,408.4 L1188.6,405.6 L1192.1,402.9 L1195.6,400.2 L1199.1,397.5 L1202.5,394.8 L1206.0,392.2 L1209.5,389.6 L1213.0,387.0 L1216.5,384.5 L1220.0,382.0 L1223.5,379.5 L1226.9,377.1 L1230.4,374.7 L1233.9,372.3 L1237.4,370.0 L1240.9,367.7 L1244.4,365.5 L1247.8,363.2 L1251.3,361.1 L1254.8,358.9 L1258.3,356.8 L1261.8,354.7 L1265.3,352.6 L1268.8,350.6 L1272.2,348.6 L1275.7,346.7 L1279.2,344.8 L1282.7,342.9 L1286.2,341.0 L1289.7,339.2 L1293.1,337.4 L1296.6,335.6 L1300.1,333.9 L1303.6,332.2 L1307.1,330.5 L1310.6,328.9 L1314.1,327.3 L1317.5,325.7 L1321.0,324.1 L1324.5,322.6 L1328.0,321.1 L1331.5,319.7 L1335.0,318.2 L1338.4,316.8 L1341.9,315.4 L1345.4,314.1 L1348.9,312.7 L1352.4,311.4 L1355.9,310.2 L1359.3,308.9 L1362.8,307.7 L1366.3,306.5 L1369.8,305.3 L1373.3,304.1 L1376.8,303.0 L1380.3,301.9 L1383.7,300.8 L1387.2,299.7 L1390.7,298.7 L1394.2,297.7 L1397.7,296.7 L1401.2,295.7 L1404.6,294.7 L1408.1,293.8 L1411.6,292.9 L1415.1,292.0 L1418.6,291.1 L1422.1,290.2 L1425.6,289.4 L1429.0,288.6" fill="none" stroke="#036fb6" stroke-width="5"/>
<path d="M1010.9,516.6 L1014.4,516.6 L1017.9,516.6 L1021.4,516.6 L1024.8,516.6 L1028.3,516.5 L1031.8,516.5 L1035.3,516.4 L1038.8,516.2 L1042.3,516.0 L1045.7,515.7 L1049.2,515.2 L1052.7,514.6 L1056.2,513.7 L1059.7,512.5 L1063.2,511.1 L1066.7,509.4 L1070.1,507.5 L1073.6,505.3 L1077.1,503.0 L1080.6,500.5 L1084.1,497.9 L1087.6,495.1 L1091.0,492.3 L1094.5,489.5 L1098.0,486.6 L1101.5,483.7 L1105.0,480.7 L1108.5,477.8 L1112.0,474.8 L1115.4,471.8 L1118.9,468.9 L1122.4,465.9 L1125.9,462.9 L1129.4,460.0 L1132.9,457.1 L1136.3,454.1 L1139.8,451.2 L1143.3,448.4 L1146.8,445.5 L1150.3,442.7 L1153.8,439.8 L1157.2,437.0 L1160.7,434.3 L1164.2,431.5 L1167.7,428.8 L1171.2,426.1 L1174.7,423.4 L1178.2,420.8 L1181.6,418.2 L1185.1,415.6 L1188.6,413.1 L1192.1,410.6 L1195.6,408.1 L1199.1,405.6 L1202.5,403.2 L1206.0,400.8 L1209.5,398.4 L1213.0,396.1 L1216.5,393.8 L1220.0,391.5 L1223.5,389.2 L1226.9,387.0 L1230.4,384.9 L1233.9,382.7 L1237.4,380.6 L1240.9,378.5 L1244.4,376.4 L1247.8,374.4 L1251.3,372.4 L1254.8,370.4 L1258.3,368.5 L1261.8,366.6 L1265.3,364.7 L1268.8,362.9 L1272.2,361.1 L1275.7,359.3 L1279.2,357.5 L1282.7,355.8 L1286.2,354.1 L1289.7,352.4 L1293.1,350.8 L1296.6,349.1 L1300.1,347.6 L1303.6,346.0 L1307.1,344.5 L1310.6,342.9 L1314.1,341.5 L1317.5,340.0 L1321.0,338.6 L1324.5,337.2 L1328.0,335.8 L1331.5,334.4 L1335.0,333.1 L1338.4,331.8 L1341.9,330.5 L1345.4,329.2 L1348.9,328.0 L1352.4,326.8 L1355.9,325.6 L1359.3,324.4 L1362.8,323.3 L1366.3,322.1 L1369.8,321.0 L1373.3,319.9 L1376.8,318.9 L1380.3,317.8 L1383.7,316.8 L1387.2,315.8 L1390.7,314.8 L1394.2,313.8 L1397.7,312.9 L1401.2,312.0 L1404.6,311.0 L1408.1,310.2 L1411.6,309.3 L1415.1,308.4 L1418.6,307.6 L1422.1,306.7 L1425.6,305.9 L1429.0,305.1" fill="none" stroke="#036fb6" stroke-width="5"/>
<path d="M1010.9,516.6 L1014.4,516.6 L1017.9,516.6 L1021.4,516.6 L1024.8,516.6 L1028.3,516.6 L1031.8,516.5 L1035.3,516.4 L1038.8,516.2 L1042.3,516.0 L1045.7,515.7 L1049.2,515.2 L1052.7,514.5 L1056.2,513.7 L1059.7,512.6 L1063.2,511.2 L1066.7,509.7 L1070.1,507.9 L1073.6,506.0 L1077.1,503.9 L1080.6,501.6 L1084.1,499.3 L1087.6,496.9 L1091.0,494.4 L1094.5,491.8 L1098.0,489.2 L1101.5,486.5 L1105.0,483.8 L1108.5,481.1 L1112.0,478.4 L1115.4,475.6 L1118.9,472.8 L1122.4,470.1 L1125.9,467.3 L1129.4,464.5 L1132.9,461.7 L1136.3,458.9 L1139.8,456.1 L1143.3,453.3 L1146.8,450.5 L1150.3,447.8 L1153.8,445.0 L1157.2,442.3 L1160.7,439.6 L1164.2,436.9 L1167.7,434.2 L1171.2,431.5 L1174.7,428.9 L1178.2,426.2 L1181.6,423.6 L1185.1,421.1 L1188.6,418.5 L1192.1,416.0 L1195.6,413.5 L1199.1,411.0 L1202.5,408.6 L1206.0,406.1 L1209.5,403.8 L1213.0,401.4 L1216.5,399.1 L1220.0,396.8 L1223.5,394.5 L1226.9,392.2 L1230.4,390.0 L1233.9,387.8 L1237.4,385.7 L1240.9,383.6 L1244.4,381.5 L1247.8,379.4 L1251.3,377.4 L1254.8,375.4 L1258.3,373.4 L1261.8,371.5 L1265.3,369.6 L1268.8,367.7 L1272.2,365.8 L1275.7,364.0 L1279.2,362.2 L1282.7,360.5 L1286.2,358.7 L1289.7,357.0 L1293.1,355.4 L1296.6,353.7 L1300.1,352.1 L1303.6,350.5 L1307.1,349.0 L1310.6,347.5 L1314.1,346.0 L1317.5,344.5 L1321.0,343.1 L1324.5,341.7 L1328.0,340.3 L1331.5,338.9 L1335.0,337.6 L1338.4,336.3 L1341.9,335.0 L1345.4,333.7 L1348.9,332.5 L1352.4,331.3 L1355.9,330.1 L1359.3,328.9 L1362.8,327.8 L1366.3,326.7 L1369.8,325.6 L1373.3,324.5 L1376.8,323.5 L1380.3,322.5 L1383.7,321.5 L1387.2,320.5 L1390.7,319.5 L1394.2,318.6 L1397.7,317.7 L1401.2,316.8 L1404.6,315.9 L1408.1,315.1 L1411.6,314.2 L1415.1,313.4 L1418.6,312.6 L1422.1,311.8 L1425.6,311.1 L1429.0,310.3" fill="none" stroke="#036fb6" stroke-width="5"/>
<path d="M1010.9,516.6 L1014.4,516.6 L1017.9,516.6 L1021.4,516.6 L1024.8,516.6 L1028.3,516.6 L1031.8,516.5 L1035.3,516.4 L1038.8,516.3 L1042.3,516.0 L1045.7,515.7 L1049.2,515.2 L1052.7,514.6 L1056.2,513.8 L1059.7,512.7 L1063.2,511.5 L1066.7,510.1 L1070.1,508.5 L1073.6,506.7 L1077.1,504.8 L1080.6,502.8 L1084.1,500.7 L1087.6,498.5 L1091.0,496.2 L1094.5,493.8 L1098.0,491.4 L1101.5,489.0 L1105.0,486.4 L1108.5,483.9 L1112.0,481.3 L1115.4,478.7 L1118.9,476.0 L1122.4,473.4 L1125.9,470.7 L1129.4,468.0 L1132.9,465.3 L1136.3,462.6 L1139.8,459.9 L1143.3,457.1 L1146.8,454.4 L1150.3,451.7 L1153.8,449.0 L1157.2,446.3 L1160.7,443.6 L1164.2,440.9 L1167.7,438.2 L1171.2,435.6 L1174.7,432.9 L1178.2,430.3 L1181.6,427.7 L1185.1,425.1 L1188.6,422.5 L1192.1,420.0 L1195.6,417.5 L1199.1,415.0 L1202.5,412.5 L1206.0,410.1 L1209.5,407.7 L1213.0,405.3 L1216.5,402.9 L1220.0,400.6 L1223.5,398.3 L1226.9,396.0 L1230.4,393.8 L1233.9,391.5 L1237.4,389.4 L1240.9,387.2 L1244.4,385.1 L1247.8,383.0 L1251.3,381.0 L1254.8,378.9 L1258.3,377.0 L1261.8,375.0 L1265.3,373.1 L1268.8,371.2 L1272.2,369.3 L1275.7,367.5 L1279.2,365.7 L1282.7,363.9 L1286.2,362.2 L1289.7,360.5 L1293.1,358.9 L1296.6,357.2 L1300.1,355.6 L1303.6,354.1 L1307.1,352.5 L1310.6,351.0 L1314.1,349.5 L1317.5,348.1 L1321.0,346.7 L1324.5,345.3 L1328.0,343.9 L1331.5,342.6 L1335.0,341.3 L1338.4,340.0 L1341.9,338.8 L1345.4,337.6 L1348.9,336.4 L1352.4,335.2 L1355.9,334.1 L1359.3,333.0 L1362.8,331.9 L1366.3,330.8 L1369.8,329.8 L1373.3,328.8 L1376.8,327.8 L1380.3,326.8 L1383.7,325.9 L1387.2,325.0 L1390.7,324.1 L1394.2,323.2 L1397.7,322.4 L1401.2,321.6 L1404.6,320.8 L1408.1,320.0 L1411.6,319.2 L1415.1,318.5 L1418.6,317.7 L1422.1,317.0 L1425.6,316.4 L1429.0,315.7" fill="none" stroke="#036fb6" stroke-width="5"/>
<path d="M1010.9,516.6 L1014.4,516.6 L1017.9,516.6 L1021.4,516.6 L1024.8,516.6 L1028.3,516.6 L1031.8,516.5 L1035.3,516.5 L1038.8,516.3 L1042.3,516.2 L1045.7,515.9 L1049.2,515.6 L1052.7,515.1 L1056.2,514.4 L1059.7,513.6 L1063.2,512.7 L1066.7,511.5 L1070.1,510.3 L1073.6,508.9 L1077.1,507.4 L1080.6,505.9 L1084.1,504.2 L1087.6,502.5 L1091.0,500.7 L1094.5,498.9 L1098.0,497.0 L1101.5,495.1 L1105.0,493.2 L1108.5,491.2 L1112.0,489.3 L1115.4,487.3 L1118.9,485.3 L1122.4,483.2 L1125.9,481.2 L1129.4,479.1 L1132.9,477.1 L1136.3,475.0 L1139.8,472.9 L1143.3,470.9 L1146.8,468.8 L1150.3,466.8 L1153.8,464.7 L1157.2,462.6 L1160.7,460.6 L1164.2,458.6 L1167.7,456.5 L1171.2,454.5 L1174.7,452.5 L1178.2,450.5 L1181.6,448.5 L1185.1,446.5 L1188.6,444.6 L1192.1,442.6 L1195.6,440.7 L1199.1,438.8 L1202.5,436.9 L1206.0,435.0 L1209.5,433.1 L1213.0,431.3 L1216.5,429.5 L1220.0,427.7 L1223.5,425.9 L1226.9,424.1 L1230.4,422.3 L1233.9,420.6 L1237.4,418.9 L1240.9,417.2 L1244.4,415.6 L1247.8,413.9 L1251.3,412.3 L1254.8,410.7 L1258.3,409.1 L1261.8,407.5 L1265.3,406.0 L1268.8,404.5 L1272.2,403.0 L1275.7,401.5 L1279.2,400.1 L1282.7,398.6 L1286.2,397.2 L1289.7,395.8 L1293.1,394.5 L1296.6,393.1 L1300.1,391.8 L1303.6,390.5 L1307.1,389.2 L1310.6,388.0 L1314.1,386.7 L1317.5,385.5 L1321.0,384.3 L1324.5,383.1 L1328.0,382.0 L1331.5,380.8 L1335.0,379.7 L1338.4,378.6 L1341.9,377.6 L1345.4,376.5 L1348.9,375.5 L1352.4,374.4 L1355.9,373.4 L1359.3,372.5 L1362.8,371.5 L1366.3,370.6 L1369.8,369.6 L1373.3,368.7 L1376.8,367.8 L1380.3,367.0 L1383.7,366.1 L1387.2,365.3 L1390.7,364.5 L1394.2,363.7 L1397.7,362.9 L1401.2,362.1 L1404.6,361.3 L1408.1,360.6 L1411.6,359.9 L1415.1,359.2 L1418.6,358.5 L1422.1,357.8 L1425.6,357.1 L1429.0,356.5" fill="none" stroke="#036fb6" stroke-width="5"/>
<path d="M1010.9,516.6 L1014.4,516.6 L1017.9,516.6 L1021.4,516.6 L1024.8,516.6 L1028.3,516.6 L1031.8,516.5 L1035.3,516.5 L1038.8,516.4 L1042.3,516.2 L1045.7,516.0 L1049.2,515.6 L1052.7,515.1 L1056.2,514.5 L1059.7,513.8 L1063.2,512.9 L1066.7,511.8 L1070.1,510.7 L1073.6,509.4 L1077.1,508.0 L1080.6,506.6 L1084.1,505.0 L1087.6,503.4 L1091.0,501.7 L1094.5,500.0 L1098.0,498.3 L1101.5,496.5 L1105.0,494.6 L1108.5,492.8 L1112.0,490.9 L1115.4,489.0 L1118.9,487.0 L1122.4,485.1 L1125.9,483.1 L1129.4,481.1 L1132.9,479.2 L1136.3,477.2 L1139.8,475.2 L1143.3,473.2 L1146.8,471.2 L1150.3,469.1 L1153.8,467.1 L1157.2,465.1 L1160.7,463.1 L1164.2,461.1 L1167.7,459.2 L1171.2,457.2 L1174.7,455.2 L1178.2,453.2 L1181.6,451.3 L1185.1,449.4 L1188.6,447.4 L1192.1,445.5 L1195.6,443.6 L1199.1,441.7 L1202.5,439.9 L1206.0,438.0 L1209.5,436.2 L1213.0,434.4 L1216.5,432.6 L1220.0,430.8 L1223.5,429.0 L1226.9,427.3 L1230.4,425.6 L1233.9,423.9 L1237.4,422.2 L1240.9,420.5 L1244.4,418.9 L1247.8,417.3 L1251.3,415.7 L1254.8,414.1 L1258.3,412.5 L1261.8,411.0 L1265.3,409.5 L1268.8,408.0 L1272.2,406.5 L1275.7,405.1 L1279.2,403.7 L1282.7,402.3 L1286.2,400.9 L1289.7,399.5 L1293.1,398.2 L1296.6,396.9 L1300.1,395.6 L1303.6,394.3 L1307.1,393.1 L1310.6,391.8 L1314.1,390.6 L1317.5,389.5 L1321.0,388.3 L1324.5,387.2 L1328.0,386.0 L1331.5,384.9 L1335.0,383.9 L1338.4,382.8 L1341.9,381.8 L1345.4,380.8 L1348.9,379.8 L1352.4,378.8 L1355.9,377.8 L1359.3,376.9 L1362.8,376.0 L1366.3,375.1 L1369.8,374.2 L1373.3,373.3 L1376.8,372.5 L1380.3,371.7 L1383.7,370.8 L1387.2,370.0 L1390.7,369.3 L1394.2,368.5 L1397.7,367.8 L1401.2,367.0 L1404.6,366.3 L1408.1,365.6 L1411.6,365.0 L1415.1,364.3 L1418.6,363.7 L1422.1,363.0 L1425.6,362.4 L1429.0,361.8" fill="none" stroke="#036fb6" stroke-width="5"/>
<path d="M1010.9,516.6 L1014.4,516.6 L1017.9,516.6 L1021.4,516.6 L1024.8,516.6 L1028.3,516.6 L1031.8,516.5 L1035.3,516.4 L1038.8,516.3 L1042.3,516.1 L1045.7,515.8 L1049.2,515.5 L1052.7,515.0 L1056.2,514.5 L1059.7,513.8 L1063.2,513.0 L1066.7,512.2 L1070.1,511.2 L1073.6,510.2 L1077.1,509.1 L1080.6,508.0 L1084.1,506.8 L1087.6,505.6 L1091.0,504.3 L1094.5,503.0 L1098.0,501.7 L1101.5,500.3 L1105.0,498.9 L1108.5,497.5 L1112.0,496.1 L1115.4,494.6 L1118.9,493.2 L1122.4,491.7 L1125.9,490.2 L1129.4,488.7 L1132.9,487.1 L1136.3,485.6 L1139.8,484.1 L1143.3,482.5 L1146.8,480.9 L1150.3,479.4 L1153.8,477.8 L1157.2,476.2 L1160.7,474.7 L1164.2,473.1 L1167.7,471.5 L1171.2,469.9 L1174.7,468.4 L1178.2,466.8 L1181.6,465.2 L1185.1,463.7 L1188.6,462.1 L1192.1,460.5 L1195.6,459.0 L1199.1,457.4 L1202.5,455.9 L1206.0,454.4 L1209.5,452.8 L1213.0,451.3 L1216.5,449.8 L1220.0,448.3 L1223.5,446.8 L1226.9,445.3 L1230.4,443.9 L1233.9,442.4 L1237.4,441.0 L1240.9,439.5 L1244.4,438.1 L1247.8,436.7 L1251.3,435.3 L1254.8,433.9 L1258.3,432.5 L1261.8,431.1 L1265.3,429.8 L1268.8,428.4 L1272.2,427.1 L1275.7,425.8 L1279.2,424.5 L1282.7,423.2 L1286.2,421.9 L1289.7,420.6 L1293.1,419.4 L1296.6,418.1 L1300.1,416.9 L1303.6,415.7 L1307.1,414.5 L1310.6,413.3 L1314.1,412.2 L1317.5,411.0 L1321.0,409.9 L1324.5,408.8 L1328.0,407.7 L1331.5,406.6 L1335.0,405.5 L1338.4,404.4 L1341.9,403.4 L1345.4,402.3 L1348.9,401.3 L1352.4,400.3 L1355.9,399.3 L1359.3,398.3 L1362.8,397.4 L1366.3,396.4 L1369.8,395.5 L1373.3,394.5 L1376.8,393.6 L1380.3,392.7 L1383.7,391.8 L1387.2,391.0 L1390.7,390.1 L1394.2,389.3 L1397.7,388.4 L1401.2,387.6 L1404.6,386.8 L1408.1,386.0 L1411.6,385.3 L1415.1,384.5 L1418.6,383.7 L1422.1,383.0 L1425.6,382.3 L1429.0,381.6" fill="none" stroke="#036fb6" stroke-width="5"/>
<path d="M1010.9,516.6 L1014.4,516.6 L1017.9,516.6 L1021.4,516.6 L1024.8,516.6 L1028.3,516.6 L1031.8,516.6 L1035.3,516.6 L1038.8,516.6 L1042.3,516.6 L1045.7,516.6 L1049.2,516.5 L1052.7,516.5 L1056.2,516.4 L1059.7,516.2 L1063.2,516.0 L1066.7,515.8 L1070.1,515.4 L1073.6,515.0 L1077.1,514.6 L1080.6,514.0 L1084.1,513.5 L1087.6,512.8 L1091.0,512.2 L1094.5,511.5 L1098.0,510.7 L1101.5,509.9 L1105.0,509.2 L1108.5,508.3 L1112.0,507.5 L1115.4,506.7 L1118.9,505.8 L1122.4,504.9 L1125.9,504.0 L1129.4,503.1 L1132.9,502.2 L1136.3,501.3 L1139.8,500.4 L1143.3,499.4 L1146.8,498.5 L1150.3,497.5 L1153.8,496.6 L1157.2,495.6 L1160.7,494.7 L1164.2,493.7 L1167.7,492.8 L1171.2,491.8 L1174.7,490.9 L1178.2,489.9 L1181.6,489.0 L1185.1,488.0 L1188.6,487.1 L1192.1,486.2 L1195.6,485.2 L1199.1,484.3 L1202.5,483.4 L1206.0,482.4 L1209.5,481.5 L1213.0,480.6 L1216.5,479.7 L1220.0,478.8 L1223.5,477.9 L1226.9,477.0 L1230.4,476.2 L1233.9,475.3 L1237.4,474.4 L1240.9,473.6 L1244.4,472.7 L1247.8,471.9 L1251.3,471.1 L1254.8,470.2 L1258.3,469.4 L1261.8,468.6 L1265.3,467.8 L1268.8,467.0 L1272.2,466.3 L1275.7,465.5 L1279.2,464.7 L1282.7,464.0 L1286.2,463.3 L1289.7,462.5 L1293.1,461.8 L1296.6,461.1 L1300.1,460.4 L1303.6,459.7 L1307.1,459.0 L1310.6,458.4 L1314.1,457.7 L1317.5,457.1 L1321.0,456.4 L1324.5,455.8 L1328.0,455.2 L1331.5,454.5 L1335.0,453.9 L1338.4,453.3 L1341.9,452.8 L1345.4,452.2 L1348.9,451.6 L1352.4,451.1 L1355.9,450.5 L1359.3,450.0 L1362.8,449.5 L1366.3,448.9 L1369.8,448.4 L1373.3,447.9 L1376.8,447.4 L1380.3,447.0 L1383.7,446.5 L1387.2,446.0 L1390.7,445.6 L1394.2,445.1 L1397.7,444.7 L1401.2,444.2 L1404.6,443.8 L1408.1,443.4 L1411.6,443.0 L1415.1,442.6 L1418.6,442.2 L1422.1,441.8 L1425.6,441.4 L1429.0,441.1" fill="none" stroke="#036fb6" stroke-width="5"/>
<path d="M1010.9,517.9 L1014.4,517.9 L1017.9,517.9 L1021.4,517.8 L1024.8,517.8 L1028.3,517.6 L1031.8,517.5 L1035.3,517.3 L1038.8,517.1 L1042.3,516.8 L1045.7,516.4 L1049.2,516.0 L1052.7,515.6 L1056.2,515.1 L1059.7,514.5 L1063.2,513.9 L1066.7,513.3 L1070.1,512.6 L1073.6,511.8 L1077.1,511.0 L1080.6,510.2 L1084.1,509.3 L1087.6,508.4 L1091.0,507.5 L1094.5,506.5 L1098.0,505.5 L1101.5,504.4 L1105.0,503.3 L1108.5,502.1 L1112.0,501.0 L1115.4,499.8 L1118.9,498.5 L1122.4,497.3 L1125.9,496.0 L1129.4,494.7 L1132.9,493.3 L1136.3,492.0 L1139.8,490.6 L1143.3,489.2 L1146.8,487.7 L1150.3,486.3 L1153.8,484.8 L1157.2,483.3 L1160.7,481.9 L1164.2,480.4 L1167.7,478.8 L1171.2,477.3 L1174.7,475.8 L1178.2,474.2 L1181.6,472.7 L1185.1,471.1 L1188.6,469.6 L1192.1,468.0 L1195.6,466.5 L1199.1,464.9 L1202.5,463.3 L1206.0,461.8 L1209.5,460.2 L1213.0,458.7 L1216.5,457.2 L1220.0,455.6 L1223.5,454.1 L1226.9,452.6 L1230.4,451.1 L1233.9,449.6 L1237.4,448.1 L1240.9,446.7 L1244.4,445.2 L1247.8,443.8 L1251.3,442.4 L1254.8,441.0 L1258.3,439.6 L1261.8,438.2 L1265.3,436.9 L1268.8,435.5 L1272.2,434.2 L1275.7,432.9 L1279.2,431.7 L1282.7,430.4 L1286.2,429.2 L1289.7,428.0 L1293.1,426.8 L1296.6,425.6 L1300.1,424.5 L1303.6,423.4 L1307.1,422.3 L1310.6,421.2 L1314.1,420.1 L1317.5,419.1 L1321.0,418.1 L1324.5,417.1 L1328.0,416.2 L1331.5,415.2 L1335.0,414.3 L1338.4,413.4 L1341.9,412.5 L1345.4,411.7 L1348.9,410.9 L1352.4,410.1 L1355.9,409.3 L1359.3,408.5 L1362.8,407.8 L1366.3,407.1 L1369.8,406.4 L1373.3,405.7 L1376.8,405.0 L1380.3,404.4 L1383.7,403.8 L1387.2,403.2 L1390.7,402.6 L1394.2,402.1 L1397.7,401.5 L1401.2,401.0 L1404.6,400.5 L1408.1,400.0 L1411.6,399.6 L1415.1,399.1 L1418.6,398.7 L1422.1,398.2 L1425.6,397.8 L1429.0,397.4" fill="none" stroke="#7a7e80" stroke-width="8"/>
<path d="M1010.9,517.1 L1014.4,517.1 L1017.9,517.1 L1021.4,517.1 L1024.8,517.1 L1028.3,517.1 L1031.8,517.1 L1035.3,517.1 L1038.8,517.1 L1042.3,517.1 L1045.7,517.1 L1049.2,517.0 L1052.7,517.0 L1056.2,517.0 L1059.7,516.9 L1063.2,516.8 L1066.7,516.7 L1070.1,516.5 L1073.6,516.3 L1077.1,516.1 L1080.6,515.9 L1084.1,515.6 L1087.6,515.3 L1091.0,515.0 L1094.5,514.6 L1098.0,514.3 L1101.5,513.9 L1105.0,513.6 L1108.5,513.2 L1112.0,512.8 L1115.4,512.4 L1118.9,512.0 L1122.4,511.6 L1125.9,511.2 L1129.4,510.7 L1132.9,510.3 L1136.3,509.9 L1139.8,509.4 L1143.3,509.0 L1146.8,508.6 L1150.3,508.1 L1153.8,507.7 L1157.2,507.2 L1160.7,506.8 L1164.2,506.3 L1167.7,505.9 L1171.2,505.4 L1174.7,505.0 L1178.2,504.5 L1181.6,504.1 L1185.1,503.6 L1188.6,503.2 L1192.1,502.8 L1195.6,502.3 L1199.1,501.9 L1202.5,501.4 L1206.0,501.0 L1209.5,500.6 L1213.0,500.2 L1216.5,499.7 L1220.0,499.3 L1223.5,498.9 L1226.9,498.5 L1230.4,498.1 L1233.9,497.7 L1237.4,497.2 L1240.9,496.8 L1244.4,496.5 L1247.8,496.1 L1251.3,495.7 L1254.8,495.3 L1258.3,494.9 L1261.8,494.5 L1265.3,494.2 L1268.8,493.8 L1272.2,493.4 L1275.7,493.1 L1279.2,492.7 L1282.7,492.4 L1286.2,492.0 L1289.7,491.7 L1293.1,491.3 L1296.6,491.0 L1300.1,490.7 L1303.6,490.3 L1307.1,490.0 L1310.6,489.7 L1314.1,489.4 L1317.5,489.1 L1321.0,488.8 L1324.5,488.5 L1328.0,488.2 L1331.5,487.9 L1335.0,487.6 L1338.4,487.4 L1341.9,487.1 L1345.4,486.8 L1348.9,486.5 L1352.4,486.3 L1355.9,486.0 L1359.3,485.8 L1362.8,485.5 L1366.3,485.3 L1369.8,485.0 L1373.3,484.8 L1376.8,484.6 L1380.3,484.4 L1383.7,484.1 L1387.2,483.9 L1390.7,483.7 L1394.2,483.5 L1397.7,483.3 L1401.2,483.1 L1404.6,482.9 L1408.1,482.7 L1411.6,482.5 L1415.1,482.3 L1418.6,482.1 L1422.1,481.9 L1425.6,481.8 L1429.0,481.6" fill="none" stroke="#6f5597" stroke-width="2.4"/>
<path d="M1010.9,517.3 L1014.4,517.3 L1017.9,517.3 L1021.4,517.3 L1024.8,517.3 L1028.3,517.3 L1031.8,517.3 L1035.3,517.3 L1038.8,517.3 L1042.3,517.3 L1045.7,517.3 L1049.2,517.3 L1052.7,517.3 L1056.2,517.3 L1059.7,517.2 L1063.2,517.1 L1066.7,517.1 L1070.1,516.9 L1073.6,516.8 L1077.1,516.7 L1080.6,516.5 L1084.1,516.3 L1087.6,516.1 L1091.0,515.9 L1094.5,515.6 L1098.0,515.4 L1101.5,515.1 L1105.0,514.9 L1108.5,514.6 L1112.0,514.3 L1115.4,514.1 L1118.9,513.8 L1122.4,513.5 L1125.9,513.2 L1129.4,512.9 L1132.9,512.6 L1136.3,512.3 L1139.8,512.0 L1143.3,511.7 L1146.8,511.4 L1150.3,511.1 L1153.8,510.8 L1157.2,510.5 L1160.7,510.1 L1164.2,509.8 L1167.7,509.5 L1171.2,509.2 L1174.7,508.9 L1178.2,508.6 L1181.6,508.3 L1185.1,508.0 L1188.6,507.6 L1192.1,507.3 L1195.6,507.0 L1199.1,506.7 L1202.5,506.4 L1206.0,506.1 L1209.5,505.8 L1213.0,505.5 L1216.5,505.2 L1220.0,504.9 L1223.5,504.6 L1226.9,504.3 L1230.4,504.1 L1233.9,503.8 L1237.4,503.5 L1240.9,503.2 L1244.4,502.9 L1247.8,502.7 L1251.3,502.4 L1254.8,502.1 L1258.3,501.9 L1261.8,501.6 L1265.3,501.3 L1268.8,501.1 L1272.2,500.8 L1275.7,500.6 L1279.2,500.3 L1282.7,500.1 L1286.2,499.8 L1289.7,499.6 L1293.1,499.4 L1296.6,499.1 L1300.1,498.9 L1303.6,498.7 L1307.1,498.4 L1310.6,498.2 L1314.1,498.0 L1317.5,497.8 L1321.0,497.6 L1324.5,497.4 L1328.0,497.2 L1331.5,497.0 L1335.0,496.8 L1338.4,496.6 L1341.9,496.4 L1345.4,496.2 L1348.9,496.0 L1352.4,495.8 L1355.9,495.7 L1359.3,495.5 L1362.8,495.3 L1366.3,495.1 L1369.8,495.0 L1373.3,494.8 L1376.8,494.6 L1380.3,494.5 L1383.7,494.3 L1387.2,494.2 L1390.7,494.0 L1394.2,493.9 L1397.7,493.7 L1401.2,493.6 L1404.6,493.5 L1408.1,493.3 L1411.6,493.2 L1415.1,493.0 L1418.6,492.9 L1422.1,492.8 L1425.6,492.7 L1429.0,492.6" fill="none" stroke="#6f5597" stroke-width="2.4"/>
<path d="M1010.9,517.5 L1014.4,517.5 L1017.9,517.5 L1021.4,517.5 L1024.8,517.5 L1028.3,517.5 L1031.8,517.5 L1035.3,517.5 L1038.8,517.5 L1042.3,517.5 L1045.7,517.5 L1049.2,517.5 L1052.7,517.5 L1056.2,517.4 L1059.7,517.4 L1063.2,517.4 L1066.7,517.3 L1070.1,517.2 L1073.6,517.1 L1077.1,517.0 L1080.6,516.9 L1084.1,516.7 L1087.6,516.5 L1091.0,516.4 L1094.5,516.2 L1098.0,516.0 L1101.5,515.8 L1105.0,515.6 L1108.5,515.4 L1112.0,515.2 L1115.4,515.0 L1118.9,514.7 L1122.4,514.5 L1125.9,514.3 L1129.4,514.1 L1132.9,513.8 L1136.3,513.6 L1139.8,513.4 L1143.3,513.1 L1146.8,512.9 L1150.3,512.6 L1153.8,512.4 L1157.2,512.2 L1160.7,511.9 L1164.2,511.7 L1167.7,511.4 L1171.2,511.2 L1174.7,510.9 L1178.2,510.7 L1181.6,510.4 L1185.1,510.2 L1188.6,510.0 L1192.1,509.7 L1195.6,509.5 L1199.1,509.2 L1202.5,509.0 L1206.0,508.8 L1209.5,508.5 L1213.0,508.3 L1216.5,508.1 L1220.0,507.8 L1223.5,507.6 L1226.9,507.4 L1230.4,507.2 L1233.9,506.9 L1237.4,506.7 L1240.9,506.5 L1244.4,506.3 L1247.8,506.1 L1251.3,505.9 L1254.8,505.7 L1258.3,505.4 L1261.8,505.2 L1265.3,505.0 L1268.8,504.8 L1272.2,504.6 L1275.7,504.4 L1279.2,504.3 L1282.7,504.1 L1286.2,503.9 L1289.7,503.7 L1293.1,503.5 L1296.6,503.3 L1300.1,503.1 L1303.6,503.0 L1307.1,502.8 L1310.6,502.6 L1314.1,502.5 L1317.5,502.3 L1321.0,502.1 L1324.5,502.0 L1328.0,501.8 L1331.5,501.6 L1335.0,501.5 L1338.4,501.3 L1341.9,501.2 L1345.4,501.0 L1348.9,500.9 L1352.4,500.8 L1355.9,500.6 L1359.3,500.5 L1362.8,500.3 L1366.3,500.2 L1369.8,500.1 L1373.3,500.0 L1376.8,499.8 L1380.3,499.7 L1383.7,499.6 L1387.2,499.5 L1390.7,499.4 L1394.2,499.2 L1397.7,499.1 L1401.2,499.0 L1404.6,498.9 L1408.1,498.8 L1411.6,498.7 L1415.1,498.6 L1418.6,498.5 L1422.1,498.4 L1425.6,498.3 L1429.0,498.2" fill="none" stroke="#6f5597" stroke-width="2.4"/>
<path d="M1010.9,517.7 L1014.4,517.7 L1017.9,517.7 L1021.4,517.7 L1024.8,517.7 L1028.3,517.7 L1031.8,517.7 L1035.3,517.7 L1038.8,517.7 L1042.3,517.7 L1045.7,517.7 L1049.2,517.7 L1052.7,517.7 L1056.2,517.6 L1059.7,517.6 L1063.2,517.5 L1066.7,517.5 L1070.1,517.4 L1073.6,517.3 L1077.1,517.2 L1080.6,517.1 L1084.1,516.9 L1087.6,516.8 L1091.0,516.6 L1094.5,516.5 L1098.0,516.3 L1101.5,516.1 L1105.0,515.9 L1108.5,515.7 L1112.0,515.5 L1115.4,515.3 L1118.9,515.1 L1122.4,514.9 L1125.9,514.7 L1129.4,514.5 L1132.9,514.3 L1136.3,514.0 L1139.8,513.8 L1143.3,513.6 L1146.8,513.4 L1150.3,513.1 L1153.8,512.9 L1157.2,512.7 L1160.7,512.5 L1164.2,512.2 L1167.7,512.0 L1171.2,511.8 L1174.7,511.6 L1178.2,511.3 L1181.6,511.1 L1185.1,510.9 L1188.6,510.7 L1192.1,510.4 L1195.6,510.2 L1199.1,510.0 L1202.5,509.8 L1206.0,509.5 L1209.5,509.3 L1213.0,509.1 L1216.5,508.9 L1220.0,508.7 L1223.5,508.5 L1226.9,508.3 L1230.4,508.0 L1233.9,507.8 L1237.4,507.6 L1240.9,507.4 L1244.4,507.2 L1247.8,507.0 L1251.3,506.8 L1254.8,506.6 L1258.3,506.4 L1261.8,506.2 L1265.3,506.1 L1268.8,505.9 L1272.2,505.7 L1275.7,505.5 L1279.2,505.3 L1282.7,505.1 L1286.2,505.0 L1289.7,504.8 L1293.1,504.6 L1296.6,504.5 L1300.1,504.3 L1303.6,504.1 L1307.1,504.0 L1310.6,503.8 L1314.1,503.6 L1317.5,503.5 L1321.0,503.3 L1324.5,503.2 L1328.0,503.0 L1331.5,502.9 L1335.0,502.8 L1338.4,502.6 L1341.9,502.5 L1345.4,502.3 L1348.9,502.2 L1352.4,502.1 L1355.9,501.9 L1359.3,501.8 L1362.8,501.7 L1366.3,501.6 L1369.8,501.4 L1373.3,501.3 L1376.8,501.2 L1380.3,501.1 L1383.7,501.0 L1387.2,500.9 L1390.7,500.8 L1394.2,500.6 L1397.7,500.5 L1401.2,500.4 L1404.6,500.3 L1408.1,500.2 L1411.6,500.1 L1415.1,500.0 L1418.6,500.0 L1422.1,499.9 L1425.6,499.8 L1429.0,499.7" fill="none" stroke="#6f5597" stroke-width="2.4"/>
<path d="M1010.9,517.9 L1014.4,517.9 L1017.9,517.9 L1021.4,517.9 L1024.8,517.9 L1028.3,517.9 L1031.8,517.9 L1035.3,517.9 L1038.8,517.9 L1042.3,517.9 L1045.7,517.9 L1049.2,517.8 L1052.7,517.8 L1056.2,517.8 L1059.7,517.8 L1063.2,517.7 L1066.7,517.7 L1070.1,517.6 L1073.6,517.5 L1077.1,517.4 L1080.6,517.3 L1084.1,517.2 L1087.6,517.0 L1091.0,516.9 L1094.5,516.7 L1098.0,516.5 L1101.5,516.4 L1105.0,516.2 L1108.5,516.0 L1112.0,515.8 L1115.4,515.6 L1118.9,515.4 L1122.4,515.2 L1125.9,515.0 L1129.4,514.8 L1132.9,514.6 L1136.3,514.4 L1139.8,514.2 L1143.3,514.0 L1146.8,513.8 L1150.3,513.6 L1153.8,513.4 L1157.2,513.2 L1160.7,513.0 L1164.2,512.8 L1167.7,512.5 L1171.2,512.3 L1174.7,512.1 L1178.2,511.9 L1181.6,511.7 L1185.1,511.5 L1188.6,511.3 L1192.1,511.1 L1195.6,510.8 L1199.1,510.6 L1202.5,510.4 L1206.0,510.2 L1209.5,510.0 L1213.0,509.8 L1216.5,509.6 L1220.0,509.4 L1223.5,509.2 L1226.9,509.0 L1230.4,508.8 L1233.9,508.6 L1237.4,508.4 L1240.9,508.2 L1244.4,508.1 L1247.8,507.9 L1251.3,507.7 L1254.8,507.5 L1258.3,507.3 L1261.8,507.1 L1265.3,507.0 L1268.8,506.8 L1272.2,506.6 L1275.7,506.4 L1279.2,506.3 L1282.7,506.1 L1286.2,505.9 L1289.7,505.8 L1293.1,505.6 L1296.6,505.5 L1300.1,505.3 L1303.6,505.2 L1307.1,505.0 L1310.6,504.8 L1314.1,504.7 L1317.5,504.6 L1321.0,504.4 L1324.5,504.3 L1328.0,504.1 L1331.5,504.0 L1335.0,503.9 L1338.4,503.7 L1341.9,503.6 L1345.4,503.5 L1348.9,503.3 L1352.4,503.2 L1355.9,503.1 L1359.3,503.0 L1362.8,502.9 L1366.3,502.7 L1369.8,502.6 L1373.3,502.5 L1376.8,502.4 L1380.3,502.3 L1383.7,502.2 L1387.2,502.1 L1390.7,502.0 L1394.2,501.9 L1397.7,501.8 L1401.2,501.7 L1404.6,501.6 L1408.1,501.5 L1411.6,501.4 L1415.1,501.3 L1418.6,501.2 L1422.1,501.2 L1425.6,501.1 L1429.0,501.0" fill="none" stroke="#6f5597" stroke-width="2.4"/>
<path d="M1010.9,518.0 L1014.4,518.0 L1017.9,518.0 L1021.4,518.0 L1024.8,518.0 L1028.3,518.0 L1031.8,518.0 L1035.3,518.0 L1038.8,518.0 L1042.3,518.0 L1045.7,518.0 L1049.2,518.0 L1052.7,518.0 L1056.2,518.0 L1059.7,518.0 L1063.2,517.9 L1066.7,517.9 L1070.1,517.8 L1073.6,517.7 L1077.1,517.6 L1080.6,517.5 L1084.1,517.4 L1087.6,517.2 L1091.0,517.1 L1094.5,517.0 L1098.0,516.8 L1101.5,516.6 L1105.0,516.5 L1108.5,516.3 L1112.0,516.1 L1115.4,516.0 L1118.9,515.8 L1122.4,515.6 L1125.9,515.4 L1129.4,515.2 L1132.9,515.0 L1136.3,514.8 L1139.8,514.6 L1143.3,514.5 L1146.8,514.3 L1150.3,514.1 L1153.8,513.9 L1157.2,513.7 L1160.7,513.5 L1164.2,513.3 L1167.7,513.1 L1171.2,512.9 L1174.7,512.7 L1178.2,512.5 L1181.6,512.3 L1185.1,512.1 L1188.6,511.9 L1192.1,511.7 L1195.6,511.5 L1199.1,511.3 L1202.5,511.1 L1206.0,510.9 L1209.5,510.7 L1213.0,510.5 L1216.5,510.3 L1220.0,510.2 L1223.5,510.0 L1226.9,509.8 L1230.4,509.6 L1233.9,509.4 L1237.4,509.2 L1240.9,509.1 L1244.4,508.9 L1247.8,508.7 L1251.3,508.5 L1254.8,508.4 L1258.3,508.2 L1261.8,508.0 L1265.3,507.9 L1268.8,507.7 L1272.2,507.5 L1275.7,507.4 L1279.2,507.2 L1282.7,507.1 L1286.2,506.9 L1289.7,506.8 L1293.1,506.6 L1296.6,506.5 L1300.1,506.3 L1303.6,506.2 L1307.1,506.0 L1310.6,505.9 L1314.1,505.8 L1317.5,505.6 L1321.0,505.5 L1324.5,505.4 L1328.0,505.2 L1331.5,505.1 L1335.0,505.0 L1338.4,504.9 L1341.9,504.7 L1345.4,504.6 L1348.9,504.5 L1352.4,504.4 L1355.9,504.3 L1359.3,504.2 L1362.8,504.0 L1366.3,503.9 L1369.8,503.8 L1373.3,503.7 L1376.8,503.6 L1380.3,503.5 L1383.7,503.4 L1387.2,503.3 L1390.7,503.2 L1394.2,503.1 L1397.7,503.0 L1401.2,503.0 L1404.6,502.9 L1408.1,502.8 L1411.6,502.7 L1415.1,502.6 L1418.6,502.5 L1422.1,502.5 L1425.6,502.4 L1429.0,502.3" fill="none" stroke="#6f5597" stroke-width="2.4"/>
<path d="M1010.9,518.2 L1014.4,518.2 L1017.9,518.2 L1021.4,518.2 L1024.8,518.2 L1028.3,518.2 L1031.8,518.2 L1035.3,518.2 L1038.8,518.2 L1042.3,518.2 L1045.7,518.2 L1049.2,518.2 L1052.7,518.2 L1056.2,518.2 L1059.7,518.1 L1063.2,518.1 L1066.7,518.0 L1070.1,518.0 L1073.6,517.9 L1077.1,517.8 L1080.6,517.7 L1084.1,517.6 L1087.6,517.5 L1091.0,517.3 L1094.5,517.2 L1098.0,517.1 L1101.5,516.9 L1105.0,516.8 L1108.5,516.6 L1112.0,516.4 L1115.4,516.3 L1118.9,516.1 L1122.4,515.9 L1125.9,515.8 L1129.4,515.6 L1132.9,515.4 L1136.3,515.2 L1139.8,515.1 L1143.3,514.9 L1146.8,514.7 L1150.3,514.5 L1153.8,514.3 L1157.2,514.2 L1160.7,514.0 L1164.2,513.8 L1167.7,513.6 L1171.2,513.4 L1174.7,513.2 L1178.2,513.0 L1181.6,512.9 L1185.1,512.7 L1188.6,512.5 L1192.1,512.3 L1195.6,512.1 L1199.1,512.0 L1202.5,511.8 L1206.0,511.6 L1209.5,511.4 L1213.0,511.2 L1216.5,511.1 L1220.0,510.9 L1223.5,510.7 L1226.9,510.6 L1230.4,510.4 L1233.9,510.2 L1237.4,510.0 L1240.9,509.9 L1244.4,509.7 L1247.8,509.6 L1251.3,509.4 L1254.8,509.2 L1258.3,509.1 L1261.8,508.9 L1265.3,508.8 L1268.8,508.6 L1272.2,508.5 L1275.7,508.3 L1279.2,508.2 L1282.7,508.0 L1286.2,507.9 L1289.7,507.7 L1293.1,507.6 L1296.6,507.5 L1300.1,507.3 L1303.6,507.2 L1307.1,507.1 L1310.6,506.9 L1314.1,506.8 L1317.5,506.7 L1321.0,506.6 L1324.5,506.4 L1328.0,506.3 L1331.5,506.2 L1335.0,506.1 L1338.4,506.0 L1341.9,505.9 L1345.4,505.7 L1348.9,505.6 L1352.4,505.5 L1355.9,505.4 L1359.3,505.3 L1362.8,505.2 L1366.3,505.1 L1369.8,505.0 L1373.3,504.9 L1376.8,504.8 L1380.3,504.7 L1383.7,504.6 L1387.2,504.6 L1390.7,504.5 L1394.2,504.4 L1397.7,504.3 L1401.2,504.2 L1404.6,504.1 L1408.1,504.1 L1411.6,504.0 L1415.1,503.9 L1418.6,503.8 L1422.1,503.7 L1425.6,503.7 L1429.0,503.6" fill="none" stroke="#6f5597" stroke-width="2.4"/>
<path d="M1010.9,518.6 L1014.4,518.6 L1017.9,518.6 L1021.4,518.6 L1024.8,518.6 L1028.3,518.6 L1031.8,518.6 L1035.3,518.6 L1038.8,518.6 L1042.3,518.6 L1045.7,518.6 L1049.2,518.5 L1052.7,518.5 L1056.2,518.5 L1059.7,518.5 L1063.2,518.5 L1066.7,518.4 L1070.1,518.3 L1073.6,518.3 L1077.1,518.2 L1080.6,518.1 L1084.1,518.0 L1087.6,517.9 L1091.0,517.8 L1094.5,517.6 L1098.0,517.5 L1101.5,517.4 L1105.0,517.2 L1108.5,517.1 L1112.0,516.9 L1115.4,516.8 L1118.9,516.6 L1122.4,516.5 L1125.9,516.3 L1129.4,516.2 L1132.9,516.0 L1136.3,515.8 L1139.8,515.7 L1143.3,515.5 L1146.8,515.3 L1150.3,515.2 L1153.8,515.0 L1157.2,514.8 L1160.7,514.7 L1164.2,514.5 L1167.7,514.3 L1171.2,514.2 L1174.7,514.0 L1178.2,513.8 L1181.6,513.7 L1185.1,513.5 L1188.6,513.3 L1192.1,513.2 L1195.6,513.0 L1199.1,512.8 L1202.5,512.7 L1206.0,512.5 L1209.5,512.3 L1213.0,512.2 L1216.5,512.0 L1220.0,511.9 L1223.5,511.7 L1226.9,511.5 L1230.4,511.4 L1233.9,511.2 L1237.4,511.1 L1240.9,510.9 L1244.4,510.8 L1247.8,510.6 L1251.3,510.5 L1254.8,510.3 L1258.3,510.2 L1261.8,510.0 L1265.3,509.9 L1268.8,509.8 L1272.2,509.6 L1275.7,509.5 L1279.2,509.4 L1282.7,509.2 L1286.2,509.1 L1289.7,509.0 L1293.1,508.8 L1296.6,508.7 L1300.1,508.6 L1303.6,508.5 L1307.1,508.3 L1310.6,508.2 L1314.1,508.1 L1317.5,508.0 L1321.0,507.9 L1324.5,507.8 L1328.0,507.7 L1331.5,507.6 L1335.0,507.4 L1338.4,507.3 L1341.9,507.2 L1345.4,507.1 L1348.9,507.0 L1352.4,506.9 L1355.9,506.8 L1359.3,506.7 L1362.8,506.7 L1366.3,506.6 L1369.8,506.5 L1373.3,506.4 L1376.8,506.3 L1380.3,506.2 L1383.7,506.1 L1387.2,506.0 L1390.7,506.0 L1394.2,505.9 L1397.7,505.8 L1401.2,505.7 L1404.6,505.7 L1408.1,505.6 L1411.6,505.5 L1415.1,505.4 L1418.6,505.4 L1422.1,505.3 L1425.6,505.2 L1429.0,505.2" fill="none" stroke="#6f5597" stroke-width="2.4"/>
<path d="M1010.9,519.1 L1014.4,519.1 L1017.9,519.1 L1021.4,519.1 L1024.8,519.1 L1028.3,519.1 L1031.8,519.1 L1035.3,519.1 L1038.8,519.1 L1042.3,519.1 L1045.7,519.1 L1049.2,519.1 L1052.7,519.1 L1056.2,519.1 L1059.7,519.0 L1063.2,519.0 L1066.7,519.0 L1070.1,518.9 L1073.6,518.9 L1077.1,518.8 L1080.6,518.8 L1084.1,518.7 L1087.6,518.6 L1091.0,518.5 L1094.5,518.4 L1098.0,518.3 L1101.5,518.2 L1105.0,518.1 L1108.5,518.0 L1112.0,517.9 L1115.4,517.8 L1118.9,517.7 L1122.4,517.6 L1125.9,517.5 L1129.4,517.4 L1132.9,517.3 L1136.3,517.2 L1139.8,517.0 L1143.3,516.9 L1146.8,516.8 L1150.3,516.7 L1153.8,516.6 L1157.2,516.5 L1160.7,516.3 L1164.2,516.2 L1167.7,516.1 L1171.2,516.0 L1174.7,515.9 L1178.2,515.7 L1181.6,515.6 L1185.1,515.5 L1188.6,515.4 L1192.1,515.3 L1195.6,515.1 L1199.1,515.0 L1202.5,514.9 L1206.0,514.8 L1209.5,514.7 L1213.0,514.6 L1216.5,514.4 L1220.0,514.3 L1223.5,514.2 L1226.9,514.1 L1230.4,514.0 L1233.9,513.9 L1237.4,513.8 L1240.9,513.7 L1244.4,513.6 L1247.8,513.5 L1251.3,513.4 L1254.8,513.3 L1258.3,513.2 L1261.8,513.1 L1265.3,513.0 L1268.8,512.9 L1272.2,512.8 L1275.7,512.7 L1279.2,512.6 L1282.7,512.5 L1286.2,512.4 L1289.7,512.3 L1293.1,512.2 L1296.6,512.1 L1300.1,512.0 L1303.6,511.9 L1307.1,511.9 L1310.6,511.8 L1314.1,511.7 L1317.5,511.6 L1321.0,511.5 L1324.5,511.4 L1328.0,511.4 L1331.5,511.3 L1335.0,511.2 L1338.4,511.1 L1341.9,511.1 L1345.4,511.0 L1348.9,510.9 L1352.4,510.9 L1355.9,510.8 L1359.3,510.7 L1362.8,510.7 L1366.3,510.6 L1369.8,510.5 L1373.3,510.5 L1376.8,510.4 L1380.3,510.3 L1383.7,510.3 L1387.2,510.2 L1390.7,510.2 L1394.2,510.1 L1397.7,510.1 L1401.2,510.0 L1404.6,509.9 L1408.1,509.9 L1411.6,509.8 L1415.1,509.8 L1418.6,509.7 L1422.1,509.7 L1425.6,509.6 L1429.0,509.6" fill="none" stroke="#6f5597" stroke-width="2.4"/>
<path d="M1010.9,519.7 L1014.4,519.7 L1017.9,519.7 L1021.4,519.7 L1024.8,519.7 L1028.3,519.7 L1031.8,519.7 L1035.3,519.7 L1038.8,519.7 L1042.3,519.7 L1045.7,519.7 L1049.2,519.7 L1052.7,519.7 L1056.2,519.7 L1059.7,519.7 L1063.2,519.7 L1066.7,519.6 L1070.1,519.6 L1073.6,519.6 L1077.1,519.6 L1080.6,519.5 L1084.1,519.5 L1087.6,519.5 L1091.0,519.4 L1094.5,519.4 L1098.0,519.3 L1101.5,519.3 L1105.0,519.2 L1108.5,519.2 L1112.0,519.1 L1115.4,519.1 L1118.9,519.0 L1122.4,519.0 L1125.9,518.9 L1129.4,518.9 L1132.9,518.8 L1136.3,518.7 L1139.8,518.7 L1143.3,518.6 L1146.8,518.6 L1150.3,518.5 L1153.8,518.4 L1157.2,518.4 L1160.7,518.3 L1164.2,518.3 L1167.7,518.2 L1171.2,518.2 L1174.7,518.1 L1178.2,518.0 L1181.6,518.0 L1185.1,517.9 L1188.6,517.9 L1192.1,517.8 L1195.6,517.7 L1199.1,517.7 L1202.5,517.6 L1206.0,517.6 L1209.5,517.5 L1213.0,517.5 L1216.5,517.4 L1220.0,517.3 L1223.5,517.3 L1226.9,517.2 L1230.4,517.2 L1233.9,517.1 L1237.4,517.1 L1240.9,517.0 L1244.4,517.0 L1247.8,516.9 L1251.3,516.9 L1254.8,516.8 L1258.3,516.8 L1261.8,516.7 L1265.3,516.7 L1268.8,516.6 L1272.2,516.6 L1275.7,516.5 L1279.2,516.5 L1282.7,516.4 L1286.2,516.4 L1289.7,516.3 L1293.1,516.3 L1296.6,516.2 L1300.1,516.2 L1303.6,516.2 L1307.1,516.1 L1310.6,516.1 L1314.1,516.0 L1317.5,516.0 L1321.0,516.0 L1324.5,515.9 L1328.0,515.9 L1331.5,515.8 L1335.0,515.8 L1338.4,515.8 L1341.9,515.7 L1345.4,515.7 L1348.9,515.7 L1352.4,515.6 L1355.9,515.6 L1359.3,515.6 L1362.8,515.5 L1366.3,515.5 L1369.8,515.5 L1373.3,515.4 L1376.8,515.4 L1380.3,515.4 L1383.7,515.3 L1387.2,515.3 L1390.7,515.3 L1394.2,515.2 L1397.7,515.2 L1401.2,515.2 L1404.6,515.2 L1408.1,515.1 L1411.6,515.1 L1415.1,515.1 L1418.6,515.1 L1422.1,515.0 L1425.6,515.0 L1429.0,515.0" fill="none" stroke="#6f5597" stroke-width="2.4"/>
<line x1="1010.9" y1="158.9" x2="1010.9" y2="522.2" stroke="#000" stroke-width="2.6"/>
<line x1="1009.6" y1="521.0" x2="1447.9" y2="521.0" stroke="#000" stroke-width="2.6"/>
<line x1="1003.9" y1="521.0" x2="1010.9" y2="521.0" stroke="#000" stroke-width="2.2"/>
<text x="1000.5" y="531.5" font-size="30.5" text-anchor="end" fill="#000" stroke="#000" stroke-width="0.35">0</text>
<line x1="1003.9" y1="434.0" x2="1010.9" y2="434.0" stroke="#000" stroke-width="2.2"/>
<text x="1000.5" y="445.3" font-size="30.5" text-anchor="end" fill="#000" stroke="#000" stroke-width="0.35">10</text>
<line x1="1003.9" y1="347.0" x2="1010.9" y2="347.0" stroke="#000" stroke-width="2.2"/>
<text x="1000.5" y="358.8" font-size="30.5" text-anchor="end" fill="#000" stroke="#000" stroke-width="0.35">20</text>
<line x1="1003.9" y1="260.0" x2="1010.9" y2="260.0" stroke="#000" stroke-width="2.2"/>
<text x="1000.5" y="272.2" font-size="30.5" text-anchor="end" fill="#000" stroke="#000" stroke-width="0.35">30</text>
<line x1="1003.9" y1="173.0" x2="1010.9" y2="173.0" stroke="#000" stroke-width="2.2"/>
<text x="1000.5" y="186.5" font-size="30.5" text-anchor="end" fill="#000" stroke="#000" stroke-width="0.35">40</text>
<line x1="1010.9" y1="521.0" x2="1010.9" y2="527.5" stroke="#000" stroke-width="2.2"/>
<text x="1005.5" y="556.2" font-size="30.5" text-anchor="middle" fill="#000" stroke="#000" stroke-width="0.35">0</text>
<line x1="1080.6" y1="521.0" x2="1080.6" y2="527.5" stroke="#000" stroke-width="2.2"/>
<text x="1080.0" y="556.2" font-size="30.5" text-anchor="middle" fill="#000" stroke="#000" stroke-width="0.35">30</text>
<line x1="1150.3" y1="521.0" x2="1150.3" y2="527.5" stroke="#000" stroke-width="2.2"/>
<text x="1150.2" y="556.2" font-size="30.5" text-anchor="middle" fill="#000" stroke="#000" stroke-width="0.35">60</text>
<line x1="1220.0" y1="521.0" x2="1220.0" y2="527.5" stroke="#000" stroke-width="2.2"/>
<text x="1221.0" y="556.2" font-size="30.5" text-anchor="middle" fill="#000" stroke="#000" stroke-width="0.35">90</text>
<line x1="1289.7" y1="521.0" x2="1289.7" y2="527.5" stroke="#000" stroke-width="2.2"/>
<text x="1295.0" y="556.2" font-size="30.5" text-anchor="middle" fill="#000" stroke="#000" stroke-width="0.35">120</text>
<line x1="1359.3" y1="521.0" x2="1359.3" y2="527.5" stroke="#000" stroke-width="2.2"/>
<text x="1367.0" y="556.2" font-size="30.5" text-anchor="middle" fill="#000" stroke="#000" stroke-width="0.35">150</text>
<line x1="1429.0" y1="521.0" x2="1429.0" y2="527.5" stroke="#000" stroke-width="2.2"/>
<text x="1437.0" y="556.2" font-size="30.5" text-anchor="middle" fill="#000" stroke="#000" stroke-width="0.35">180</text>
<text x="1244.7" y="605.5" font-size="32.5" text-anchor="middle" textLength="169.0" lengthAdjust="spacingAndGlyphs" fill="#000" stroke="#000" stroke-width="0.35">Time (min)</text>
<text transform="translate(947.5,543.0) rotate(-90)" x="0" y="0" font-size="34" textLength="62.6" lengthAdjust="spacingAndGlyphs" fill="#000" stroke="#000" stroke-width="0.35">GFP</text>
<text transform="translate(947.5,471.8) rotate(-90)" x="0" y="0" font-size="34" textLength="136.2" lengthAdjust="spacingAndGlyphs" fill="#000" stroke="#000" stroke-width="0.35">intensity</text>
<text transform="translate(947.5,326.4) rotate(-90)" x="0" y="0" font-size="34" textLength="73.1" lengthAdjust="spacingAndGlyphs" fill="#000" stroke="#000" stroke-width="0.35">(arb.</text>
<text transform="translate(947.5,243.4) rotate(-90)" x="0" y="0" font-size="34" textLength="87.7" lengthAdjust="spacingAndGlyphs" fill="#000" stroke="#000" stroke-width="0.35">units)</text>
<text x="1441.0" y="182.6" font-size="26" fill="#000" stroke="#000" stroke-width="0.35">199</text>
<text x="1441.0" y="232.2" font-size="26" fill="#000" stroke="#000" stroke-width="0.35">555</text>
<text x="1441.0" y="268.8" font-size="26" fill="#000" stroke="#000" stroke-width="0.35">177</text>
<text x="1441.0" y="292.9" font-size="26" fill="#000" stroke="#000" stroke-width="0.35">444</text>
<text x="1441.0" y="319.8" font-size="26" textLength="160.0" lengthAdjust="spacingAndGlyphs" fill="#000" stroke="#000" stroke-width="0.35">133, 333, AAA</text>
<text x="1441.0" y="361.3" font-size="26" textLength="99.0" lengthAdjust="spacingAndGlyphs" fill="#000" stroke="#000" stroke-width="0.35">222, TTA</text>
<text x="1441.0" y="397.2" font-size="26" textLength="60.0" lengthAdjust="spacingAndGlyphs" fill="#000" stroke="#000" stroke-width="0.35">cMyc</text>
<text x="1441.0" y="450.5" font-size="26" fill="#000" stroke="#000" stroke-width="0.35">111</text>
<g transform="translate(1677.5,177.2) scale(0.83,0.85)">
<use href="#cube"/>
<path d="M0,1 C-12,-5 -56,-9 -58.4,16 C-60,40 -25,46 0,32" fill="none" stroke="#e41f2e" stroke-width="2.35" stroke-linecap="round" stroke-linejoin="round"/>
<path d="M0,0 C3,-3 7,-2 7,4 C7,20 1,55 2,65 C3,70 7,68 10,62 C15,52 22,40 27.7,32" fill="none" stroke="#e41f2e" stroke-width="2.35" stroke-linecap="round" stroke-linejoin="round"/>
<path d="M27.7,-0.5 C40,-8 86,-12 86,17 C86,40 60,42 46.7,40.2" fill="none" stroke="#e41f2e" stroke-width="2.35" stroke-linecap="round" stroke-linejoin="round"/>
</g>
<g transform="translate(1673.2,253.3) scale(0.83,0.85)">
<use href="#cube"/>
<path d="M0,2 C-15,0 -36,3 -36,16 C-36,29 -15,33 0,32.5" fill="none" stroke="#e41f2e" stroke-width="2.35" stroke-linecap="round" stroke-linejoin="round"/>
<path d="M0,-0.5 C2,-4 7,-6 8,-3 C9,5 6,35 8,46 C9,50 12,50 15,46 C20,40 25,35 28.6,31.5" fill="none" stroke="#e41f2e" stroke-width="2.35" stroke-linecap="round" stroke-linejoin="round"/>
<path d="M29.2,-2 C40,-5 70,-5 73,14 C75,30 60,38 47.1,39.5" fill="none" stroke="#e41f2e" stroke-width="2.35" stroke-linecap="round" stroke-linejoin="round"/>
</g>
<g transform="translate(1671.2,317.7) scale(0.83,0.85)">
<use href="#cube"/>
<path d="M0,2 C-11,1.5 -20.5,7 -20.5,17.5 C-20.5,27 -12,34 -0.5,32.8" fill="none" stroke="#e41f2e" stroke-width="2.35" stroke-linecap="round" stroke-linejoin="round"/>
<path d="M-0.6,-1.2 C3,-5 8,-10 10.3,-9 C12,-8 11,-3 10,5 C9,14 9,25 11,29 C13,33 24,33.5 28.3,31" fill="none" stroke="#e41f2e" stroke-width="2.35" stroke-linecap="round" stroke-linejoin="round"/>
<path d="M28.7,-1.1 C36,-4 50,-3 54.5,8 C58.5,18 56,32 47.1,40.3" fill="none" stroke="#e41f2e" stroke-width="2.35" stroke-linecap="round" stroke-linejoin="round"/>
</g>
<g transform="translate(1673.8,372.3) scale(0.83,0.85)">
<use href="#cube"/>
<path d="M0,2.3 C-9,2 -19.5,6 -19.8,17 C-20,28 -10,33.5 0,33" fill="none" stroke="#e41f2e" stroke-width="2.35" stroke-linecap="round" stroke-linejoin="round"/>
<path d="M-0.3,-0.5 C2,-3.5 7,-3.5 9.5,1 C12,6 15,22 18,30 C20,35 26,36.5 28.6,32.7" fill="none" stroke="#e41f2e" stroke-width="2.35" stroke-linecap="round" stroke-linejoin="round"/>
<path d="M28.2,-1.5 C30,-4 34,-3.5 36.4,2 C38.5,8 40,25 42,33 C43,38 45,40.7 47,40.7" fill="none" stroke="#e41f2e" stroke-width="2.35" stroke-linecap="round" stroke-linejoin="round"/>
</g>
<g transform="translate(1673.8,431.9) scale(0.83,0.85)">
<use href="#cube"/>
<path d="M-0.5,33 C1.5,36.5 6,36.5 7.3,33 L10.3,9.5" fill="none" stroke="#e41f2e" stroke-width="2.35" stroke-linecap="round" stroke-linejoin="round"/>
<path d="M-0.3,-0.5 C2,-3.5 7,-3.5 9.5,1 C12,6 15,22 18,30 C20,35 26,36.5 28.6,32.7" fill="none" stroke="#e41f2e" stroke-width="2.35" stroke-linecap="round" stroke-linejoin="round"/>
<path d="M28.2,-1 C30,-3.5 34,-3.5 36.5,1.5 C39,7 41,25 43,33 C44,37.5 46,39 46.9,38.5 L46.9,5.5" fill="none" stroke="#e41f2e" stroke-width="2.35" stroke-linecap="round" stroke-linejoin="round"/>
</g>
<text x="0.0" y="716.9" font-size="44" textLength="20.0" lengthAdjust="spacingAndGlyphs" stroke="#231f20" stroke-width="0.35">c</text>
<line x1="107.7" y1="834.6" x2="107.7" y2="1152.3" stroke="#000" stroke-width="2.4"/>
<line x1="106.5" y1="1151.2" x2="855.3" y2="1151.2" stroke="#000" stroke-width="2.6"/>
<line x1="100.2" y1="1151.2" x2="107.7" y2="1151.2" stroke="#000" stroke-width="2.2"/>
<text x="96.0" y="1159.5" font-size="24" text-anchor="end" fill="#000" stroke="#000" stroke-width="0.35">0</text>
<line x1="100.2" y1="1083.8" x2="107.7" y2="1083.8" stroke="#000" stroke-width="2.2"/>
<text x="96.0" y="1092.1" font-size="24" text-anchor="end" fill="#000" stroke="#000" stroke-width="0.35">1</text>
<line x1="100.2" y1="1016.4" x2="107.7" y2="1016.4" stroke="#000" stroke-width="2.2"/>
<text x="96.0" y="1024.7" font-size="24" text-anchor="end" fill="#000" stroke="#000" stroke-width="0.35">2</text>
<line x1="100.2" y1="949.0" x2="107.7" y2="949.0" stroke="#000" stroke-width="2.2"/>
<text x="96.0" y="957.3" font-size="24" text-anchor="end" fill="#000" stroke="#000" stroke-width="0.35">3</text>
<line x1="100.2" y1="881.6" x2="107.7" y2="881.6" stroke="#000" stroke-width="2.2"/>
<text x="96.0" y="889.9" font-size="24" text-anchor="end" fill="#000" stroke="#000" stroke-width="0.35">4</text>
<text transform="translate(49.7,1201.1) rotate(-90)" x="0" y="0" font-size="34.5" textLength="93.4" lengthAdjust="spacingAndGlyphs" fill="#000" stroke="#000" stroke-width="0.35">Norm.</text>
<text transform="translate(49.7,1101.2) rotate(-90)" x="0" y="0" font-size="34.5" textLength="162.1" lengthAdjust="spacingAndGlyphs" fill="#000" stroke="#000" stroke-width="0.35">translation</text>
<text transform="translate(49.7,929.7) rotate(-90)" x="0" y="0" font-size="34.5" textLength="146.4" lengthAdjust="spacingAndGlyphs" fill="#000" stroke="#000" stroke-width="0.35">efficiency</text>
<rect x="126.3" y="1083.8" width="12.0" height="67.4" fill="#7a7e80"/>
<line x1="132.3" y1="1077.1" x2="132.3" y2="1090.5" stroke="#000" stroke-width="2"/>
<line x1="129.3" y1="1077.1" x2="135.3" y2="1077.1" stroke="#000" stroke-width="2"/>
<line x1="129.3" y1="1090.5" x2="135.3" y2="1090.5" stroke="#000" stroke-width="2"/>
<circle cx="132.3" cy="1058.9" r="3.2" fill="#fff" stroke="#000" stroke-width="1.1"/>
<circle cx="132.3" cy="1075.7" r="3.2" fill="#fff" stroke="#000" stroke-width="1.1"/>
<circle cx="132.3" cy="1080.4" r="3.2" fill="#fff" stroke="#000" stroke-width="1.1"/>
<circle cx="132.3" cy="1085.1" r="3.2" fill="#fff" stroke="#000" stroke-width="1.1"/>
<circle cx="132.3" cy="1089.2" r="3.2" fill="#fff" stroke="#000" stroke-width="1.1"/>
<circle cx="132.3" cy="1090.5" r="3.2" fill="#fff" stroke="#000" stroke-width="1.1"/>
<text transform="translate(138.5,1160.5) rotate(-90)" x="0" y="0" font-size="24" text-anchor="end" textLength="72.0" lengthAdjust="spacingAndGlyphs" fill="#000" stroke="#000" stroke-width="0.35">control</text>
<rect x="156.5" y="1141.1" width="12.0" height="10.1" fill="#6f5597"/>
<circle cx="162.5" cy="1134.4" r="3.2" fill="#fff" stroke="#000" stroke-width="1.1"/>
<circle cx="162.5" cy="1138.4" r="3.2" fill="#fff" stroke="#000" stroke-width="1.1"/>
<line x1="162.5" y1="1137.7" x2="162.5" y2="1144.5" stroke="#000" stroke-width="1.8"/>
<line x1="159.5" y1="1137.7" x2="165.5" y2="1137.7" stroke="#000" stroke-width="1.8"/>
<line x1="159.5" y1="1144.5" x2="165.5" y2="1144.5" stroke="#000" stroke-width="1.8"/>
<text x="162.5" y="1181.0" font-size="22" text-anchor="middle" fill="#000" stroke="#000" stroke-width="0.35">1</text>
<rect x="186.6" y="1147.8" width="12.0" height="3.4" fill="#6f5597"/>
<circle cx="192.6" cy="1145.8" r="3.2" fill="#fff" stroke="#000" stroke-width="1.1"/>
<line x1="192.6" y1="1146.5" x2="192.6" y2="1149.2" stroke="#000" stroke-width="1.8"/>
<line x1="189.6" y1="1146.5" x2="195.6" y2="1146.5" stroke="#000" stroke-width="1.8"/>
<line x1="189.6" y1="1149.2" x2="195.6" y2="1149.2" stroke="#000" stroke-width="1.8"/>
<text x="192.6" y="1181.0" font-size="22" text-anchor="middle" fill="#000" stroke="#000" stroke-width="0.35">2</text>
<rect x="216.8" y="1142.4" width="12.0" height="8.8" fill="#6f5597"/>
<circle cx="222.8" cy="1138.4" r="3.2" fill="#fff" stroke="#000" stroke-width="1.1"/>
<circle cx="222.8" cy="1141.1" r="3.2" fill="#fff" stroke="#000" stroke-width="1.1"/>
<line x1="222.8" y1="1140.4" x2="222.8" y2="1144.5" stroke="#000" stroke-width="1.8"/>
<line x1="219.8" y1="1140.4" x2="225.8" y2="1140.4" stroke="#000" stroke-width="1.8"/>
<line x1="219.8" y1="1144.5" x2="225.8" y2="1144.5" stroke="#000" stroke-width="1.8"/>
<text x="222.8" y="1181.0" font-size="22" text-anchor="middle" fill="#000" stroke="#000" stroke-width="0.35">3</text>
<rect x="246.9" y="1143.8" width="12.0" height="7.4" fill="#6f5597"/>
<circle cx="249.1" cy="1141.8" r="3.2" fill="#fff" stroke="#000" stroke-width="1.1"/>
<circle cx="252.9" cy="1140.4" r="3.2" fill="#fff" stroke="#000" stroke-width="1.1"/>
<circle cx="257.8" cy="1143.8" r="3.2" fill="#fff" stroke="#000" stroke-width="1.1"/>
<line x1="252.9" y1="1142.4" x2="252.9" y2="1144.5" stroke="#000" stroke-width="1.8"/>
<line x1="249.9" y1="1142.4" x2="255.9" y2="1142.4" stroke="#000" stroke-width="1.8"/>
<line x1="249.9" y1="1144.5" x2="255.9" y2="1144.5" stroke="#000" stroke-width="1.8"/>
<text x="252.9" y="1181.0" font-size="22" text-anchor="middle" fill="#000" stroke="#000" stroke-width="0.35">4</text>
<rect x="277.0" y="1143.1" width="12.0" height="8.1" fill="#6f5597"/>
<circle cx="278.7" cy="1142.4" r="3.2" fill="#fff" stroke="#000" stroke-width="1.1"/>
<circle cx="283.0" cy="1139.7" r="3.2" fill="#fff" stroke="#000" stroke-width="1.1"/>
<circle cx="287.5" cy="1142.4" r="3.2" fill="#fff" stroke="#000" stroke-width="1.1"/>
<line x1="283.0" y1="1141.8" x2="283.0" y2="1143.8" stroke="#000" stroke-width="1.8"/>
<line x1="280.0" y1="1141.8" x2="286.0" y2="1141.8" stroke="#000" stroke-width="1.8"/>
<line x1="280.0" y1="1143.8" x2="286.0" y2="1143.8" stroke="#000" stroke-width="1.8"/>
<text x="283.0" y="1181.0" font-size="22" text-anchor="middle" fill="#000" stroke="#000" stroke-width="0.35">5</text>
<rect x="307.1" y="1135.0" width="12.0" height="16.2" fill="#6f5597"/>
<circle cx="313.1" cy="1131.0" r="3.2" fill="#fff" stroke="#000" stroke-width="1.1"/>
<circle cx="313.1" cy="1138.4" r="3.2" fill="#fff" stroke="#000" stroke-width="1.1"/>
<line x1="313.1" y1="1133.0" x2="313.1" y2="1137.7" stroke="#000" stroke-width="1.8"/>
<line x1="310.1" y1="1133.0" x2="316.1" y2="1133.0" stroke="#000" stroke-width="1.8"/>
<line x1="310.1" y1="1137.7" x2="316.1" y2="1137.7" stroke="#000" stroke-width="1.8"/>
<text x="313.1" y="1181.0" font-size="22" text-anchor="middle" fill="#000" stroke="#000" stroke-width="0.35">6</text>
<rect x="337.3" y="1147.8" width="12.0" height="3.4" fill="#6f5597"/>
<circle cx="339.8" cy="1145.8" r="3.2" fill="#fff" stroke="#000" stroke-width="1.1"/>
<circle cx="343.3" cy="1143.1" r="3.2" fill="#fff" stroke="#000" stroke-width="1.1"/>
<circle cx="348.0" cy="1145.8" r="3.2" fill="#fff" stroke="#000" stroke-width="1.1"/>
<line x1="343.3" y1="1146.5" x2="343.3" y2="1149.2" stroke="#000" stroke-width="1.8"/>
<line x1="340.3" y1="1146.5" x2="346.3" y2="1146.5" stroke="#000" stroke-width="1.8"/>
<line x1="340.3" y1="1149.2" x2="346.3" y2="1149.2" stroke="#000" stroke-width="1.8"/>
<text x="343.3" y="1181.0" font-size="22" text-anchor="middle" fill="#000" stroke="#000" stroke-width="0.35">7</text>
<rect x="367.4" y="1140.4" width="12.0" height="10.8" fill="#6f5597"/>
<circle cx="368.5" cy="1137.7" r="3.2" fill="#fff" stroke="#000" stroke-width="1.1"/>
<circle cx="377.8" cy="1138.4" r="3.2" fill="#fff" stroke="#000" stroke-width="1.1"/>
<circle cx="373.4" cy="1145.1" r="3.2" fill="#fff" stroke="#000" stroke-width="1.1"/>
<line x1="373.4" y1="1139.1" x2="373.4" y2="1141.8" stroke="#000" stroke-width="1.8"/>
<line x1="370.4" y1="1139.1" x2="376.4" y2="1139.1" stroke="#000" stroke-width="1.8"/>
<line x1="370.4" y1="1141.8" x2="376.4" y2="1141.8" stroke="#000" stroke-width="1.8"/>
<text x="373.4" y="1181.0" font-size="22" text-anchor="middle" fill="#000" stroke="#000" stroke-width="0.35">8</text>
<rect x="397.5" y="1141.1" width="12.0" height="10.1" fill="#6f5597"/>
<circle cx="399.0" cy="1138.4" r="3.2" fill="#fff" stroke="#000" stroke-width="1.1"/>
<circle cx="408.3" cy="1138.4" r="3.2" fill="#fff" stroke="#000" stroke-width="1.1"/>
<circle cx="403.5" cy="1141.8" r="3.2" fill="#fff" stroke="#000" stroke-width="1.1"/>
<line x1="403.5" y1="1139.7" x2="403.5" y2="1142.4" stroke="#000" stroke-width="1.8"/>
<line x1="400.5" y1="1139.7" x2="406.5" y2="1139.7" stroke="#000" stroke-width="1.8"/>
<line x1="400.5" y1="1142.4" x2="406.5" y2="1142.4" stroke="#000" stroke-width="1.8"/>
<text x="403.5" y="1181.0" font-size="22" text-anchor="middle" fill="#000" stroke="#000" stroke-width="0.35">9</text>
<rect x="427.7" y="1144.5" width="12.0" height="6.7" fill="#6f5597"/>
<circle cx="428.8" cy="1141.8" r="3.2" fill="#fff" stroke="#000" stroke-width="1.1"/>
<circle cx="438.5" cy="1141.8" r="3.2" fill="#fff" stroke="#000" stroke-width="1.1"/>
<circle cx="433.7" cy="1141.1" r="3.2" fill="#fff" stroke="#000" stroke-width="1.1"/>
<line x1="433.7" y1="1143.1" x2="433.7" y2="1145.1" stroke="#000" stroke-width="1.8"/>
<line x1="430.7" y1="1143.1" x2="436.7" y2="1143.1" stroke="#000" stroke-width="1.8"/>
<line x1="430.7" y1="1145.1" x2="436.7" y2="1145.1" stroke="#000" stroke-width="1.8"/>
<text x="433.7" y="1181.0" font-size="22" text-anchor="middle" fill="#000" stroke="#000" stroke-width="0.35">10</text>
<rect x="457.8" y="1136.4" width="12.0" height="14.8" fill="#6f5597"/>
<circle cx="463.8" cy="1131.0" r="3.2" fill="#fff" stroke="#000" stroke-width="1.1"/>
<circle cx="463.8" cy="1134.4" r="3.2" fill="#fff" stroke="#000" stroke-width="1.1"/>
<circle cx="463.8" cy="1136.4" r="3.2" fill="#fff" stroke="#000" stroke-width="1.1"/>
<line x1="463.8" y1="1133.7" x2="463.8" y2="1139.1" stroke="#000" stroke-width="1.8"/>
<line x1="460.8" y1="1133.7" x2="466.8" y2="1133.7" stroke="#000" stroke-width="1.8"/>
<line x1="460.8" y1="1139.1" x2="466.8" y2="1139.1" stroke="#000" stroke-width="1.8"/>
<text x="463.8" y="1181.0" font-size="22" text-anchor="middle" fill="#000" stroke="#000" stroke-width="0.35">11</text>
<rect x="527.7" y="1083.4" width="12.4" height="67.8" fill="#036fb6"/>
<line x1="533.9" y1="1058.9" x2="533.9" y2="1108.1" stroke="#000" stroke-width="2"/>
<line x1="529.7" y1="1058.9" x2="538.1" y2="1058.9" stroke="#000" stroke-width="2"/>
<line x1="529.7" y1="1108.1" x2="538.1" y2="1108.1" stroke="#000" stroke-width="2"/>
<circle cx="533.9" cy="1068.3" r="3.2" fill="#fff" stroke="#000" stroke-width="1.1"/>
<circle cx="533.9" cy="1071.0" r="3.2" fill="#fff" stroke="#000" stroke-width="1.1"/>
<circle cx="533.9" cy="1104.7" r="3.2" fill="#fff" stroke="#000" stroke-width="1.1"/>
<text x="533.9" y="1181.0" font-size="22" text-anchor="middle" fill="#000" stroke="#000" stroke-width="0.35">1</text>
<rect x="557.9" y="1058.2" width="12.4" height="93.0" fill="#036fb6"/>
<line x1="564.1" y1="1044.7" x2="564.1" y2="1071.0" stroke="#000" stroke-width="2"/>
<line x1="559.9" y1="1044.7" x2="568.3" y2="1044.7" stroke="#000" stroke-width="2"/>
<line x1="559.9" y1="1071.0" x2="568.3" y2="1071.0" stroke="#000" stroke-width="2"/>
<circle cx="564.1" cy="1045.4" r="3.2" fill="#fff" stroke="#000" stroke-width="1.1"/>
<circle cx="564.1" cy="1054.1" r="3.2" fill="#fff" stroke="#000" stroke-width="1.1"/>
<circle cx="564.1" cy="1060.9" r="3.2" fill="#fff" stroke="#000" stroke-width="1.1"/>
<circle cx="564.1" cy="1077.1" r="3.2" fill="#fff" stroke="#000" stroke-width="1.1"/>
<text x="564.1" y="1181.0" font-size="22" text-anchor="middle" fill="#000" stroke="#000" stroke-width="0.35">2</text>
<rect x="588.2" y="1072.3" width="12.4" height="78.9" fill="#036fb6"/>
<line x1="594.4" y1="1043.4" x2="594.4" y2="1100.7" stroke="#000" stroke-width="2"/>
<line x1="590.2" y1="1043.4" x2="598.6" y2="1043.4" stroke="#000" stroke-width="2"/>
<line x1="590.2" y1="1100.7" x2="598.6" y2="1100.7" stroke="#000" stroke-width="2"/>
<circle cx="594.4" cy="1045.4" r="3.2" fill="#fff" stroke="#000" stroke-width="1.1"/>
<circle cx="594.4" cy="1078.4" r="3.2" fill="#fff" stroke="#000" stroke-width="1.1"/>
<circle cx="594.4" cy="1089.2" r="3.2" fill="#fff" stroke="#000" stroke-width="1.1"/>
<text x="594.4" y="1181.0" font-size="22" text-anchor="middle" fill="#000" stroke="#000" stroke-width="0.35">3</text>
<rect x="618.4" y="1025.2" width="12.4" height="126.0" fill="#036fb6"/>
<line x1="624.6" y1="1004.3" x2="624.6" y2="1046.7" stroke="#000" stroke-width="2"/>
<line x1="620.4" y1="1004.3" x2="628.8" y2="1004.3" stroke="#000" stroke-width="2"/>
<line x1="620.4" y1="1046.7" x2="628.8" y2="1046.7" stroke="#000" stroke-width="2"/>
<circle cx="624.6" cy="1009.0" r="3.2" fill="#fff" stroke="#000" stroke-width="1.1"/>
<circle cx="624.6" cy="1023.1" r="3.2" fill="#fff" stroke="#000" stroke-width="1.1"/>
<circle cx="624.6" cy="1042.0" r="3.2" fill="#fff" stroke="#000" stroke-width="1.1"/>
<text x="624.6" y="1181.0" font-size="22" text-anchor="middle" fill="#000" stroke="#000" stroke-width="0.35">4</text>
<rect x="648.7" y="1058.9" width="12.4" height="92.3" fill="#036fb6"/>
<line x1="654.9" y1="1027.9" x2="654.9" y2="1089.2" stroke="#000" stroke-width="2"/>
<line x1="650.7" y1="1027.9" x2="659.1" y2="1027.9" stroke="#000" stroke-width="2"/>
<line x1="650.7" y1="1089.2" x2="659.1" y2="1089.2" stroke="#000" stroke-width="2"/>
<circle cx="654.9" cy="1033.2" r="3.2" fill="#fff" stroke="#000" stroke-width="1.1"/>
<circle cx="654.9" cy="1060.2" r="3.2" fill="#fff" stroke="#000" stroke-width="1.1"/>
<circle cx="654.9" cy="1079.8" r="3.2" fill="#fff" stroke="#000" stroke-width="1.1"/>
<text x="654.9" y="1181.0" font-size="22" text-anchor="middle" fill="#000" stroke="#000" stroke-width="0.35">5</text>
<rect x="678.9" y="1054.1" width="12.4" height="97.1" fill="#036fb6"/>
<line x1="685.1" y1="1037.3" x2="685.1" y2="1071.7" stroke="#000" stroke-width="2"/>
<line x1="680.9" y1="1037.3" x2="689.3" y2="1037.3" stroke="#000" stroke-width="2"/>
<line x1="680.9" y1="1071.7" x2="689.3" y2="1071.7" stroke="#000" stroke-width="2"/>
<circle cx="685.1" cy="1041.3" r="3.2" fill="#fff" stroke="#000" stroke-width="1.1"/>
<circle cx="685.1" cy="1051.4" r="3.2" fill="#fff" stroke="#000" stroke-width="1.1"/>
<circle cx="685.1" cy="1069.0" r="3.2" fill="#fff" stroke="#000" stroke-width="1.1"/>
<text x="685.1" y="1181.0" font-size="22" text-anchor="middle" fill="#000" stroke="#000" stroke-width="0.35">6</text>
<rect x="709.1" y="1056.2" width="12.4" height="95.0" fill="#036fb6"/>
<line x1="715.3" y1="1043.4" x2="715.3" y2="1069.0" stroke="#000" stroke-width="2"/>
<line x1="711.1" y1="1043.4" x2="719.5" y2="1043.4" stroke="#000" stroke-width="2"/>
<line x1="711.1" y1="1069.0" x2="719.5" y2="1069.0" stroke="#000" stroke-width="2"/>
<circle cx="715.3" cy="1044.7" r="3.2" fill="#fff" stroke="#000" stroke-width="1.1"/>
<circle cx="715.3" cy="1055.5" r="3.2" fill="#fff" stroke="#000" stroke-width="1.1"/>
<circle cx="715.3" cy="1066.3" r="3.2" fill="#fff" stroke="#000" stroke-width="1.1"/>
<text x="715.3" y="1181.0" font-size="22" text-anchor="middle" fill="#000" stroke="#000" stroke-width="0.35">7</text>
<rect x="739.4" y="1042.7" width="12.4" height="108.5" fill="#036fb6"/>
<line x1="745.6" y1="1027.2" x2="745.6" y2="1058.9" stroke="#000" stroke-width="2"/>
<line x1="741.4" y1="1027.2" x2="749.8" y2="1027.2" stroke="#000" stroke-width="2"/>
<line x1="741.4" y1="1058.9" x2="749.8" y2="1058.9" stroke="#000" stroke-width="2"/>
<circle cx="745.6" cy="1029.9" r="3.2" fill="#fff" stroke="#000" stroke-width="1.1"/>
<circle cx="745.6" cy="1042.0" r="3.2" fill="#fff" stroke="#000" stroke-width="1.1"/>
<circle cx="745.6" cy="1054.1" r="3.2" fill="#fff" stroke="#000" stroke-width="1.1"/>
<text x="745.6" y="1181.0" font-size="22" text-anchor="middle" fill="#000" stroke="#000" stroke-width="0.35">8</text>
<rect x="769.6" y="998.2" width="12.4" height="153.0" fill="#036fb6"/>
<line x1="775.8" y1="980.0" x2="775.8" y2="1023.8" stroke="#000" stroke-width="2"/>
<line x1="771.6" y1="980.0" x2="780.0" y2="980.0" stroke="#000" stroke-width="2"/>
<line x1="771.6" y1="1023.8" x2="780.0" y2="1023.8" stroke="#000" stroke-width="2"/>
<circle cx="775.8" cy="964.5" r="3.2" fill="#fff" stroke="#000" stroke-width="1.1"/>
<circle cx="775.8" cy="1017.1" r="3.2" fill="#fff" stroke="#000" stroke-width="1.1"/>
<circle cx="775.8" cy="1025.2" r="3.2" fill="#fff" stroke="#000" stroke-width="1.1"/>
<text x="775.8" y="1181.0" font-size="22" text-anchor="middle" fill="#000" stroke="#000" stroke-width="0.35">9</text>
<rect x="799.9" y="1003.6" width="12.4" height="147.6" fill="#036fb6"/>
<line x1="806.1" y1="959.1" x2="806.1" y2="1047.4" stroke="#000" stroke-width="2"/>
<line x1="801.9" y1="959.1" x2="810.3" y2="959.1" stroke="#000" stroke-width="2"/>
<line x1="801.9" y1="1047.4" x2="810.3" y2="1047.4" stroke="#000" stroke-width="2"/>
<circle cx="806.1" cy="985.4" r="3.2" fill="#fff" stroke="#000" stroke-width="1.1"/>
<circle cx="806.1" cy="994.8" r="3.2" fill="#fff" stroke="#000" stroke-width="1.1"/>
<circle cx="806.1" cy="1012.4" r="3.2" fill="#fff" stroke="#000" stroke-width="1.1"/>
<text x="806.1" y="1181.0" font-size="22" text-anchor="middle" fill="#000" stroke="#000" stroke-width="0.35">10</text>
<rect x="830.1" y="923.4" width="12.4" height="227.8" fill="#036fb6"/>
<line x1="836.3" y1="893.1" x2="836.3" y2="955.7" stroke="#000" stroke-width="2"/>
<line x1="832.1" y1="893.1" x2="840.5" y2="893.1" stroke="#000" stroke-width="2"/>
<line x1="832.1" y1="955.7" x2="840.5" y2="955.7" stroke="#000" stroke-width="2"/>
<circle cx="836.3" cy="893.7" r="3.2" fill="#fff" stroke="#000" stroke-width="1.1"/>
<circle cx="836.3" cy="907.2" r="3.2" fill="#fff" stroke="#000" stroke-width="1.1"/>
<circle cx="836.3" cy="938.2" r="3.2" fill="#fff" stroke="#000" stroke-width="1.1"/>
<circle cx="836.3" cy="965.9" r="3.2" fill="#fff" stroke="#000" stroke-width="1.1"/>
<text x="836.3" y="1181.0" font-size="22" text-anchor="middle" fill="#000" stroke="#000" stroke-width="0.35">11</text>
<text x="290.0" y="840.2" font-size="31" text-anchor="middle" textLength="125.0" lengthAdjust="spacingAndGlyphs" fill="#000" stroke="#000" stroke-width="0.35">Template</text>
<text x="675.0" y="841.1" font-size="31" text-anchor="middle" textLength="192.0" lengthAdjust="spacingAndGlyphs" fill="#000" stroke="#000" stroke-width="0.35">Non-template</text>
<line x1="156.0" y1="796.6" x2="469.4" y2="796.6" stroke="#000" stroke-width="2"/>
<line x1="529.5" y1="796.6" x2="843.2" y2="796.6" stroke="#000" stroke-width="2"/>
<path d="M308.7,796.6 V761.1 H674.9 V796.6" fill="none" stroke="#000" stroke-width="2"/>
<text x="497.5" y="762.0" font-size="24" text-anchor="middle" fill="#000" stroke="#000" stroke-width="0.35">**</text>
<polygon points="160.2,1246.4 464.3,1246.4 464.3,1214" fill="#ed6859"/>
<polygon points="534.3,1245.6 835,1245.6 835,1214" fill="#ed6859"/>
<text x="869.0" y="716.5" font-size="44" stroke="#231f20" stroke-width="0.35">d</text>
<path d="M1110.1,995.0 L1140.7,980.8 L1171.3,968.7 L1191.7,959.6 L1212.1,952.5 L1232.5,943.4 L1244.7,931.3 L1293.7,903.0 L1354.9,853.4 L1399.8,827.2 L1436.5,803.9 L1436.5,893.9 L1399.8,905.0 L1354.9,924.2 L1293.7,946.5 L1244.7,966.7 L1232.5,971.7 L1212.1,986.9 L1191.7,1002.1 L1171.3,1012.2 L1140.7,1036.4 L1110.1,1063.7 Z" fill="#c2c3c5"/>
<path d="M1110.1,1113.9 L1436.5,1105.7 L1436.5,1112.5 L1110.1,1120.1 Z" fill="#c2c3c5"/>
<line x1="1110.9" y1="1031.4" x2="1436.5" y2="836.3" stroke="#231f20" stroke-width="2.8"/>
<line x1="1110.1" y1="1113.3" x2="1436.5" y2="1104.4" stroke="#231f20" stroke-width="2.6"/>
<line x1="1110.1" y1="997.0" x2="1110.1" y2="1070.8" stroke="#000" stroke-width="1.6"/>
<line x1="1106.7" y1="997.0" x2="1113.5" y2="997.0" stroke="#000" stroke-width="1.6"/>
<line x1="1106.7" y1="1070.8" x2="1113.5" y2="1070.8" stroke="#000" stroke-width="1.6"/>
<line x1="1130.5" y1="975.8" x2="1130.5" y2="1017.2" stroke="#000" stroke-width="1.6"/>
<line x1="1127.1" y1="975.8" x2="1133.9" y2="975.8" stroke="#000" stroke-width="1.6"/>
<line x1="1127.1" y1="1017.2" x2="1133.9" y2="1017.2" stroke="#000" stroke-width="1.6"/>
<line x1="1171.3" y1="973.8" x2="1171.3" y2="1060.7" stroke="#000" stroke-width="1.6"/>
<line x1="1167.9" y1="973.8" x2="1174.7" y2="973.8" stroke="#000" stroke-width="1.6"/>
<line x1="1167.9" y1="1060.7" x2="1174.7" y2="1060.7" stroke="#000" stroke-width="1.6"/>
<line x1="1191.7" y1="916.1" x2="1191.7" y2="980.8" stroke="#000" stroke-width="1.6"/>
<line x1="1188.3" y1="916.1" x2="1195.1" y2="916.1" stroke="#000" stroke-width="1.6"/>
<line x1="1188.3" y1="980.8" x2="1195.1" y2="980.8" stroke="#000" stroke-width="1.6"/>
<line x1="1232.5" y1="951.5" x2="1232.5" y2="1043.5" stroke="#000" stroke-width="1.6"/>
<line x1="1229.1" y1="951.5" x2="1235.9" y2="951.5" stroke="#000" stroke-width="1.6"/>
<line x1="1229.1" y1="1043.5" x2="1235.9" y2="1043.5" stroke="#000" stroke-width="1.6"/>
<line x1="1232.5" y1="965.7" x2="1232.5" y2="1014.2" stroke="#000" stroke-width="1.6"/>
<line x1="1229.1" y1="965.7" x2="1235.9" y2="965.7" stroke="#000" stroke-width="1.6"/>
<line x1="1229.1" y1="1014.2" x2="1235.9" y2="1014.2" stroke="#000" stroke-width="1.6"/>
<line x1="1232.5" y1="974.8" x2="1232.5" y2="1017.2" stroke="#000" stroke-width="1.6"/>
<line x1="1229.1" y1="974.8" x2="1235.9" y2="974.8" stroke="#000" stroke-width="1.6"/>
<line x1="1229.1" y1="1017.2" x2="1235.9" y2="1017.2" stroke="#000" stroke-width="1.6"/>
<line x1="1293.7" y1="950.5" x2="1293.7" y2="998.0" stroke="#000" stroke-width="1.6"/>
<line x1="1290.3" y1="950.5" x2="1297.1" y2="950.5" stroke="#000" stroke-width="1.6"/>
<line x1="1290.3" y1="998.0" x2="1297.1" y2="998.0" stroke="#000" stroke-width="1.6"/>
<line x1="1354.9" y1="850.4" x2="1354.9" y2="980.8" stroke="#000" stroke-width="1.6"/>
<line x1="1351.5" y1="850.4" x2="1358.3" y2="850.4" stroke="#000" stroke-width="1.6"/>
<line x1="1351.5" y1="980.8" x2="1358.3" y2="980.8" stroke="#000" stroke-width="1.6"/>
<line x1="1354.9" y1="881.7" x2="1354.9" y2="934.8" stroke="#000" stroke-width="1.6"/>
<line x1="1351.5" y1="881.7" x2="1358.3" y2="881.7" stroke="#000" stroke-width="1.6"/>
<line x1="1351.5" y1="934.8" x2="1358.3" y2="934.8" stroke="#000" stroke-width="1.6"/>
<line x1="1436.5" y1="749.3" x2="1436.5" y2="844.3" stroke="#000" stroke-width="1.6"/>
<line x1="1433.1" y1="749.3" x2="1439.9" y2="749.3" stroke="#000" stroke-width="1.6"/>
<line x1="1433.1" y1="844.3" x2="1439.9" y2="844.3" stroke="#000" stroke-width="1.6"/>
<circle cx="1110.1" cy="1036.7" r="7.1" fill="#036fb6"/>
<circle cx="1130.5" cy="999.0" r="7.1" fill="#036fb6"/>
<circle cx="1171.3" cy="1019.8" r="7.1" fill="#036fb6"/>
<circle cx="1191.7" cy="951.5" r="7.1" fill="#036fb6"/>
<circle cx="1232.5" cy="994.0" r="7.1" fill="#036fb6"/>
<circle cx="1232.5" cy="997.0" r="7.1" fill="#036fb6"/>
<circle cx="1232.5" cy="1000.0" r="7.1" fill="#036fb6"/>
<circle cx="1293.7" cy="976.8" r="7.1" fill="#036fb6"/>
<circle cx="1354.9" cy="910.1" r="7.1" fill="#036fb6"/>
<circle cx="1354.9" cy="919.2" r="7.1" fill="#036fb6"/>
<circle cx="1436.5" cy="798.8" r="7.1" fill="#036fb6"/>
<circle cx="1110.1" cy="1106.7" r="6.8" fill="#6f5597"/>
<line x1="1110.1" y1="1101.6" x2="1110.1" y2="1111.8" stroke="#000" stroke-width="1.3"/>
<line x1="1107.7" y1="1101.6" x2="1112.5" y2="1101.6" stroke="#000" stroke-width="1.3"/>
<line x1="1107.7" y1="1111.8" x2="1112.5" y2="1111.8" stroke="#000" stroke-width="1.3"/>
<circle cx="1130.5" cy="1117.4" r="6.8" fill="#6f5597"/>
<line x1="1130.5" y1="1115.9" x2="1130.5" y2="1118.9" stroke="#000" stroke-width="1.3"/>
<line x1="1128.1" y1="1115.9" x2="1132.9" y2="1115.9" stroke="#000" stroke-width="1.3"/>
<line x1="1128.1" y1="1118.9" x2="1132.9" y2="1118.9" stroke="#000" stroke-width="1.3"/>
<circle cx="1171.3" cy="1109.2" r="6.8" fill="#6f5597"/>
<line x1="1171.3" y1="1107.2" x2="1171.3" y2="1111.2" stroke="#000" stroke-width="1.3"/>
<line x1="1168.9" y1="1107.2" x2="1173.7" y2="1107.2" stroke="#000" stroke-width="1.3"/>
<line x1="1168.9" y1="1111.2" x2="1173.7" y2="1111.2" stroke="#000" stroke-width="1.3"/>
<circle cx="1191.7" cy="1110.8" r="6.8" fill="#6f5597"/>
<line x1="1191.7" y1="1108.8" x2="1191.7" y2="1112.9" stroke="#000" stroke-width="1.3"/>
<line x1="1189.3" y1="1108.8" x2="1194.1" y2="1108.8" stroke="#000" stroke-width="1.3"/>
<line x1="1189.3" y1="1112.9" x2="1194.1" y2="1112.9" stroke="#000" stroke-width="1.3"/>
<circle cx="1232.5" cy="1095.4" r="6.8" fill="#6f5597"/>
<line x1="1232.5" y1="1093.4" x2="1232.5" y2="1097.4" stroke="#000" stroke-width="1.3"/>
<line x1="1230.1" y1="1093.4" x2="1234.9" y2="1093.4" stroke="#000" stroke-width="1.3"/>
<line x1="1230.1" y1="1097.4" x2="1234.9" y2="1097.4" stroke="#000" stroke-width="1.3"/>
<circle cx="1232.5" cy="1108.4" r="6.8" fill="#6f5597"/>
<line x1="1232.5" y1="1106.4" x2="1232.5" y2="1110.4" stroke="#000" stroke-width="1.3"/>
<line x1="1230.1" y1="1106.4" x2="1234.9" y2="1106.4" stroke="#000" stroke-width="1.3"/>
<line x1="1230.1" y1="1110.4" x2="1234.9" y2="1110.4" stroke="#000" stroke-width="1.3"/>
<circle cx="1232.5" cy="1118.4" r="6.8" fill="#6f5597"/>
<line x1="1230.1" y1="1118.4" x2="1234.9" y2="1118.4" stroke="#000" stroke-width="2.2"/>
<circle cx="1293.7" cy="1106.7" r="6.8" fill="#6f5597"/>
<line x1="1291.3" y1="1106.7" x2="1296.1" y2="1106.7" stroke="#000" stroke-width="2.2"/>
<circle cx="1354.9" cy="1106.7" r="6.8" fill="#6f5597"/>
<line x1="1354.9" y1="1104.7" x2="1354.9" y2="1108.7" stroke="#000" stroke-width="1.3"/>
<line x1="1352.5" y1="1104.7" x2="1357.3" y2="1104.7" stroke="#000" stroke-width="1.3"/>
<line x1="1352.5" y1="1108.7" x2="1357.3" y2="1108.7" stroke="#000" stroke-width="1.3"/>
<circle cx="1354.9" cy="1111.9" r="6.8" fill="#6f5597"/>
<line x1="1354.9" y1="1109.8" x2="1354.9" y2="1113.9" stroke="#000" stroke-width="1.3"/>
<line x1="1352.5" y1="1109.8" x2="1357.3" y2="1109.8" stroke="#000" stroke-width="1.3"/>
<line x1="1352.5" y1="1113.9" x2="1357.3" y2="1113.9" stroke="#000" stroke-width="1.3"/>
<circle cx="1436.5" cy="1099.5" r="6.8" fill="#6f5597"/>
<line x1="1436.5" y1="1097.5" x2="1436.5" y2="1101.5" stroke="#000" stroke-width="1.3"/>
<line x1="1434.1" y1="1097.5" x2="1438.9" y2="1097.5" stroke="#000" stroke-width="1.3"/>
<line x1="1434.1" y1="1101.5" x2="1438.9" y2="1101.5" stroke="#000" stroke-width="1.3"/>
<line x1="1047.4" y1="719.6" x2="1047.4" y2="1126.6" stroke="#000" stroke-width="2.4"/>
<line x1="1046.2" y1="1125.4" x2="1454.7" y2="1125.4" stroke="#000" stroke-width="2.6"/>
<line x1="1039.4" y1="1125.4" x2="1047.4" y2="1125.4" stroke="#000" stroke-width="2.2"/>
<text x="1032.0" y="1133.2" font-size="34" text-anchor="end" fill="#000" stroke="#000" stroke-width="0.35">0</text>
<line x1="1039.4" y1="1024.3" x2="1047.4" y2="1024.3" stroke="#000" stroke-width="2.2"/>
<text x="1032.0" y="1032.1" font-size="34" text-anchor="end" fill="#000" stroke="#000" stroke-width="0.35">1</text>
<line x1="1039.4" y1="923.2" x2="1047.4" y2="923.2" stroke="#000" stroke-width="2.2"/>
<text x="1032.0" y="931.0" font-size="34" text-anchor="end" fill="#000" stroke="#000" stroke-width="0.35">2</text>
<line x1="1039.4" y1="822.1" x2="1047.4" y2="822.1" stroke="#000" stroke-width="2.2"/>
<text x="1032.0" y="829.9" font-size="34" text-anchor="end" fill="#000" stroke="#000" stroke-width="0.35">3</text>
<line x1="1039.4" y1="721.0" x2="1047.4" y2="721.0" stroke="#000" stroke-width="2.2"/>
<text x="1032.0" y="728.8" font-size="34" text-anchor="end" fill="#000" stroke="#000" stroke-width="0.35">4</text>
<line x1="1047.4" y1="1125.4" x2="1047.4" y2="1132.9" stroke="#000" stroke-width="2.2"/>
<text x="1047.4" y="1166.3" font-size="34" text-anchor="middle" fill="#000" stroke="#000" stroke-width="0.35">0</text>
<line x1="1149.1" y1="1125.4" x2="1149.1" y2="1132.9" stroke="#000" stroke-width="2.2"/>
<text x="1149.1" y="1166.3" font-size="34" text-anchor="middle" fill="#000" stroke="#000" stroke-width="0.35">5</text>
<line x1="1250.8" y1="1125.4" x2="1250.8" y2="1132.9" stroke="#000" stroke-width="2.2"/>
<text x="1250.8" y="1166.3" font-size="34" text-anchor="middle" fill="#000" stroke="#000" stroke-width="0.35">10</text>
<line x1="1352.5" y1="1125.4" x2="1352.5" y2="1132.9" stroke="#000" stroke-width="2.2"/>
<text x="1356.0" y="1166.3" font-size="34" text-anchor="middle" fill="#000" stroke="#000" stroke-width="0.35">15</text>
<line x1="1454.2" y1="1125.4" x2="1454.2" y2="1132.9" stroke="#000" stroke-width="2.2"/>
<text x="1457.7" y="1166.3" font-size="34" text-anchor="middle" fill="#000" stroke="#000" stroke-width="0.35">20</text>
<text x="1268.2" y="1211.9" font-size="34" text-anchor="middle" textLength="251.0" lengthAdjust="spacingAndGlyphs" fill="#000" stroke="#000" stroke-width="0.35">Total loop length</text>
<text transform="translate(986.9,1130.1) rotate(-90)" x="0" y="0" font-size="34.5" textLength="93.4" lengthAdjust="spacingAndGlyphs" fill="#000" stroke="#000" stroke-width="0.35">Norm.</text>
<text transform="translate(986.9,1030.2) rotate(-90)" x="0" y="0" font-size="34.5" textLength="162.1" lengthAdjust="spacingAndGlyphs" fill="#000" stroke="#000" stroke-width="0.35">translation</text>
<text transform="translate(986.9,858.7) rotate(-90)" x="0" y="0" font-size="34.5" textLength="146.4" lengthAdjust="spacingAndGlyphs" fill="#000" stroke="#000" stroke-width="0.35">efficiency</text>
<circle cx="1077.1" cy="701.7" r="7.7" fill="#036fb6"/>
<circle cx="1077.1" cy="737.9" r="7.7" fill="#6f5597"/>
<text x="1103.0" y="710.1" font-size="28" textLength="177.0" lengthAdjust="spacingAndGlyphs" fill="#000" stroke="#000" stroke-width="0.35">Non-template</text>
<text x="1103.0" y="747.9" font-size="28" textLength="120.0" lengthAdjust="spacingAndGlyphs" fill="#000" stroke="#000" stroke-width="0.35">Template</text>
<text x="1314.5" y="820.2" font-size="36.3" text-anchor="middle" textLength="124.0" lengthAdjust="spacingAndGlyphs" fill="#000" stroke="#000" stroke-width="0.35">r = 0.88</text>
<polygon points="1077,1269 1467.9,1226 1467.9,1269" fill="#ed6859"/></svg></body></html>
